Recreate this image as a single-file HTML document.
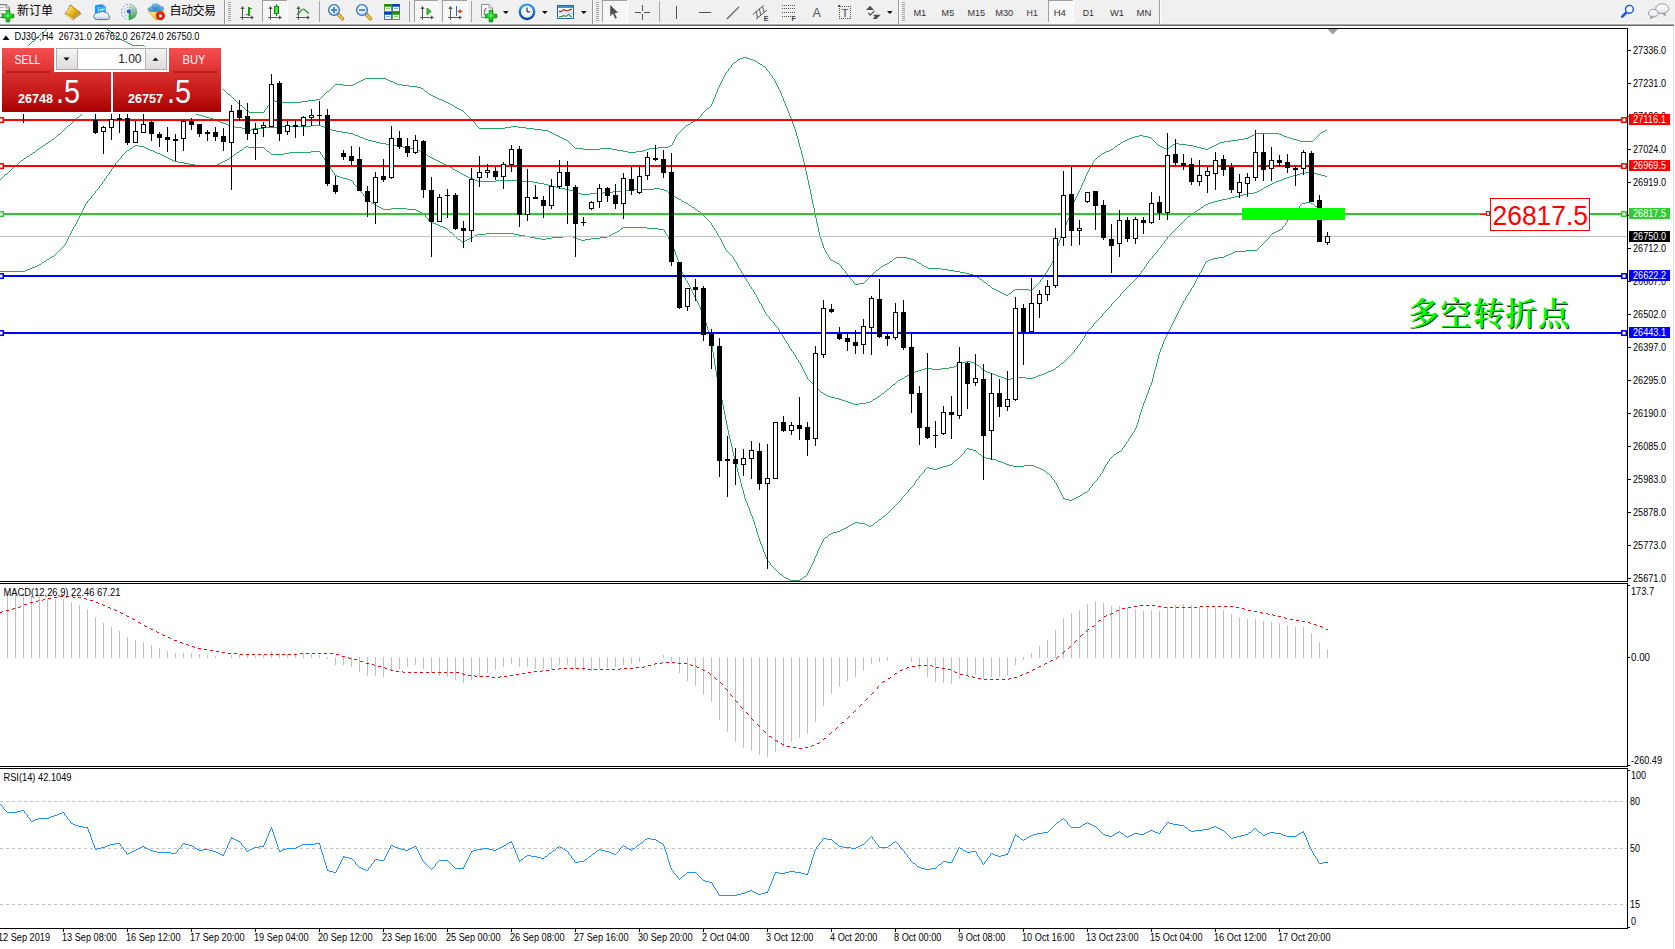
<!DOCTYPE html>
<html lang="zh"><head><meta charset="utf-8"><title>DJ30-,H4</title>
<style>html,body{margin:0;padding:0;background:#fff;overflow:hidden}body{width:1675px;height:949px;position:relative}</style></head>
<body>
<svg width="1675" height="949" viewBox="0 0 1675 949" style="position:absolute;left:0;top:0;font-family:'Liberation Sans', 'Noto Sans CJK SC', sans-serif">
<defs>
<clipPath id="cm"><rect x="0" y="29" width="1627" height="552"/></clipPath>
<clipPath id="c2"><rect x="0" y="584" width="1627" height="182"/></clipPath>
<clipPath id="c3"><rect x="0" y="769" width="1627" height="159"/></clipPath>
<linearGradient id="gtab" x1="0" y1="0" x2="0" y2="1"><stop offset="0" stop-color="#f55050"/><stop offset="1" stop-color="#dc3030"/></linearGradient>
<linearGradient id="gbig" x1="0" y1="0" x2="0" y2="1"><stop offset="0" stop-color="#d93030"/><stop offset="0.55" stop-color="#c41818"/><stop offset="1" stop-color="#a60000"/></linearGradient>
<linearGradient id="gbtn" x1="0" y1="0" x2="0" y2="1"><stop offset="0" stop-color="#f4f4f4"/><stop offset="1" stop-color="#dcdcdc"/></linearGradient>
</defs>
<rect x="0" y="0" width="1675" height="949" fill="#fff"/>
<g id="toolbar">
<defs>
<radialGradient id="gplus" cx="0.45" cy="0.42" r="0.6"><stop offset="0" stop-color="#58ff58"/><stop offset="0.55" stop-color="#1fd01f"/><stop offset="1" stop-color="#0c9c0c"/></radialGradient>
<linearGradient id="ggold" x1="0" y1="0" x2="1" y2="1"><stop offset="0" stop-color="#fff0a0"/><stop offset="0.45" stop-color="#f0c020"/><stop offset="1" stop-color="#b88010"/></linearGradient>
<linearGradient id="gsrv" x1="0" y1="0" x2="1" y2="0"><stop offset="0" stop-color="#1e90ff"/><stop offset="1" stop-color="#6ec6ff"/></linearGradient>
<radialGradient id="glens" cx="0.4" cy="0.35" r="0.7"><stop offset="0" stop-color="#ffffff"/><stop offset="1" stop-color="#b8dcf6"/></radialGradient>
<linearGradient id="gclock" x1="0" y1="0" x2="0" y2="1"><stop offset="0" stop-color="#3aa0f0"/><stop offset="1" stop-color="#0a48a8"/></linearGradient>
<linearGradient id="ghat" x1="0" y1="0" x2="0" y2="1"><stop offset="0" stop-color="#8ad0f0"/><stop offset="1" stop-color="#2a80c8"/></linearGradient>
<linearGradient id="gyel" x1="0" y1="0" x2="1" y2="1"><stop offset="0" stop-color="#fff6a0"/><stop offset="1" stop-color="#e8a810"/></linearGradient>
<linearGradient id="gcloud" x1="0" y1="0" x2="0" y2="1"><stop offset="0" stop-color="#ffffff"/><stop offset="0.5" stop-color="#f0f4fa"/><stop offset="1" stop-color="#b8c4dc"/></linearGradient>
<linearGradient id="gsig" x1="0.3" y1="0" x2="0.6" y2="1"><stop offset="0" stop-color="#dcecd8"/><stop offset="0.55" stop-color="#8cc890"/><stop offset="1" stop-color="#1ea01e"/></linearGradient>
<linearGradient id="gbub" x1="0" y1="0" x2="0" y2="1"><stop offset="0" stop-color="#ffffff"/><stop offset="0.6" stop-color="#f0f0f4"/><stop offset="1" stop-color="#dcdce8"/></linearGradient>
<pattern id="pchk" width="2" height="2" patternUnits="userSpaceOnUse"><rect width="2" height="2" fill="#fbfbfb"/><rect width="1" height="1" fill="#f2f2f2"/><rect x="1" y="1" width="1" height="1" fill="#f2f2f2"/></pattern>
</defs>
<g shape-rendering="crispEdges">
<rect x="0" y="0" width="1675" height="23" fill="#f0f0f0"/>
<rect x="0" y="23" width="1675" height="1" fill="#f7f7f7"/>
<rect x="0" y="24" width="1674" height="1" fill="#a8a8a8"/>
<rect x="0" y="25" width="1674" height="1" fill="#686868"/>
<rect x="0" y="26" width="1675" height="2" fill="#ffffff"/>
</g>
<path d="M-2,4.6 H6 L9.4,8 V17.4 H-2 Z" fill="#fdfdfd" stroke="#7c7c7c" stroke-width="1.3"/>
<path d="M6,4.6 V8 H9.4" fill="#f4f4f4" stroke="#7c7c7c" stroke-width="0.9"/>
<rect x="0" y="7" width="4" height="1" fill="#b0b0b0"/><rect x="0" y="10" width="7" height="1" fill="#b0b0b0"/><rect x="0" y="13" width="4" height="1" fill="#b0b0b0"/>
<path d="M6.2,10.4 h3.6 v3.8 h4 v3.6 h-4 v4 h-3.6 v-4 h-4 v-3.6 h4 Z" fill="url(#gplus)" stroke="#0a8a0a" stroke-width="0.9"/>
<text x="17" y="14.6" font-size="12" fill="#000">新订单</text>
<path d="M70.3,5 L80.8,13.6 L72.6,19.8 L65,13.9 Q68.6,10 70.3,5 Z" fill="#d8c070" stroke="#9c6a10" stroke-width="1" stroke-linejoin="round"/>
<path d="M70.4,5.4 L79.6,12 L73.2,17.4 L65.8,13.6 Q69,10 70.4,5.4 Z" fill="url(#ggold)" stroke="#b07c14" stroke-width="0.7" stroke-linejoin="round"/>
<path d="M65.6,14.4 L72.6,19.4" fill="none" stroke="#f4d870" stroke-width="1.3"/>
<path d="M66.2,13.2 Q69.2,10 70.6,6" fill="none" stroke="#fff4b0" stroke-width="0.9"/>
<path d="M95,5.2 L98.3,7.4 V16 L95,14 Z" fill="#00a2ff"/>
<path d="M95,5.2 L102,4.2 L106,6.4 L98.3,7.4 Z" fill="#2a8cf0"/>
<path d="M98.3,7.4 L106,6.4 V15 L98.3,16 Z" fill="#2eb0ff"/>
<path d="M98.3,7.4 V16" stroke="#d8f0ff" stroke-width="0.7"/>
<path d="M100.2,9.6 L104.6,8.6 V9.8 L100.2,10.8 Z" fill="#f4faff"/>
<path d="M96.4,19.6 a3.2,3.2 0 0 1 -0.4,-6.2 a3,3 0 0 1 3.6,-0.6 a3.6,3.6 0 0 1 5.6,-0.2 a3.2,3.2 0 0 1 3.6,3.4 a2,2 0 0 1 -1.6,3.6 Z" fill="url(#gcloud)" stroke="#4a68a8" stroke-width="0.9"/>
<path d="M129,11.8 L129,3.8 A8,8 0 0 1 129,19.8 Z" fill="url(#gsig)"/>
<circle cx="129" cy="11.8" r="7.6" fill="none" stroke="#5a86dc" stroke-width="1" stroke-dasharray="2.2 1.4" opacity="0.75"/>
<circle cx="129" cy="11.8" r="4.7" fill="none" stroke="#5a86dc" stroke-width="1" stroke-dasharray="2 1.2" opacity="0.7"/>
<rect x="128.9" y="12" width="1.5" height="7.8" fill="#18a418"/>
<circle cx="128.8" cy="11.4" r="2.1" fill="#2a5ad0"/>
<path d="M148.4,11.4 L163.8,10.6 L157.6,19.6 L155.6,19.6 Z" fill="url(#gyel)" stroke="#d8a010" stroke-width="0.8" stroke-linejoin="round"/>
<ellipse cx="155.9" cy="8.8" rx="7.9" ry="2.7" fill="url(#ghat)" stroke="#2c86b8" stroke-width="0.7" transform="rotate(-4 155.9 8.8)"/>
<ellipse cx="155.6" cy="6.4" rx="3.8" ry="2.7" fill="url(#ghat)" stroke="#2c86b8" stroke-width="0.5"/>
<circle cx="160.4" cy="15.8" r="4.1" fill="#e41c08" stroke="#b41404" stroke-width="0.6"/>
<rect x="159.1" y="14.5" width="2.7" height="2.7" fill="#ffffff"/>
<text x="169.5" y="14.6" font-size="12" fill="#000" textLength="46.5" lengthAdjust="spacing">自动交易</text>
<rect x="224" y="0" width="1" height="24" fill="#9a9a9a" shape-rendering="crispEdges"/>
<rect x="225" y="0" width="1" height="24" fill="#ffffff" shape-rendering="crispEdges"/>
<rect x="228" y="2" width="3" height="1" fill="#a2a2a2" shape-rendering="crispEdges"/>
<rect x="228" y="4" width="3" height="1" fill="#a2a2a2" shape-rendering="crispEdges"/>
<rect x="228" y="6" width="3" height="1" fill="#a2a2a2" shape-rendering="crispEdges"/>
<rect x="228" y="8" width="3" height="1" fill="#a2a2a2" shape-rendering="crispEdges"/>
<rect x="228" y="10" width="3" height="1" fill="#a2a2a2" shape-rendering="crispEdges"/>
<rect x="228" y="12" width="3" height="1" fill="#a2a2a2" shape-rendering="crispEdges"/>
<rect x="228" y="14" width="3" height="1" fill="#a2a2a2" shape-rendering="crispEdges"/>
<rect x="228" y="16" width="3" height="1" fill="#a2a2a2" shape-rendering="crispEdges"/>
<rect x="228" y="18" width="3" height="1" fill="#a2a2a2" shape-rendering="crispEdges"/>
<rect x="228" y="20" width="3" height="1" fill="#a2a2a2" shape-rendering="crispEdges"/>
<g fill="#585858" shape-rendering="crispEdges">
<rect x="242" y="7" width="1" height="13"/>
<rect x="240" y="17" width="12" height="1"/>
</g>
<path d="M242.5,6 L240.3,9 L244.7,9 Z" fill="#585858"/>
<path d="M254,17.5 L251,15.5 L251,19.5 Z" fill="#585858"/>
<g fill="#1b9b1b" shape-rendering="crispEdges"><rect x="248" y="7" width="1.6" height="9"/><rect x="250" y="8" width="2" height="1"/><rect x="246" y="14" width="2" height="1"/></g>
<rect x="262" y="0" width="25" height="23" fill="url(#pchk)" shape-rendering="crispEdges"/>
<rect x="262" y="0" width="25" height="1" fill="#a0a0a0" shape-rendering="crispEdges"/>
<rect x="262" y="0" width="1" height="22" fill="#a0a0a0" shape-rendering="crispEdges"/>
<rect x="262" y="22" width="25" height="1" fill="#ffffff" shape-rendering="crispEdges"/>
<rect x="287" y="0" width="1" height="23" fill="#ffffff" shape-rendering="crispEdges"/>
<g fill="#585858" shape-rendering="crispEdges">
<rect x="270" y="7" width="1" height="13"/>
<rect x="268" y="17" width="12" height="1"/>
</g>
<path d="M270.5,6 L268.3,9 L272.7,9 Z" fill="#585858"/>
<path d="M282,17.5 L279,15.5 L279,19.5 Z" fill="#585858"/>
<rect x="276" y="4" width="1" height="12" fill="#0c8c0c" shape-rendering="crispEdges"/>
<rect x="274.5" y="6.5" width="4" height="7" fill="#48e048" stroke="#0c8c0c" stroke-width="1"/>
<g fill="#585858" shape-rendering="crispEdges">
<rect x="298" y="7" width="1" height="13"/>
<rect x="296" y="17" width="12" height="1"/>
</g>
<path d="M298.5,6 L296.3,9 L300.7,9 Z" fill="#585858"/>
<path d="M310,17.5 L307,15.5 L307,19.5 Z" fill="#585858"/>
<path d="M297,14.6 C299.5,13.5 301.2,9.2 303.4,9.2 C305.2,9.2 307,12.8 309,13.4" fill="none" stroke="#2a9a2a" stroke-width="1.3"/>
<rect x="319" y="1" width="1" height="21" fill="#a6a6a6" shape-rendering="crispEdges"/>
<path d="M338.5,14.5 L342.6,18.8" stroke="#a87810" stroke-width="3.4" stroke-linecap="round"/>
<path d="M338.5,14.5 L342.6,18.8" stroke="#f8d048" stroke-width="1.8" stroke-linecap="round"/>
<circle cx="334" cy="10" r="5.4" fill="url(#glens)" stroke="#2f74c8" stroke-width="1.3"/>
<rect x="331" y="9.2" width="6" height="1.6" fill="#3c78b8"/>
<rect x="333.2" y="7" width="1.6" height="6" fill="#3c78b8"/>
<path d="M366.5,14.5 L370.6,18.8" stroke="#a87810" stroke-width="3.4" stroke-linecap="round"/>
<path d="M366.5,14.5 L370.6,18.8" stroke="#f8d048" stroke-width="1.8" stroke-linecap="round"/>
<circle cx="362" cy="10" r="5.4" fill="url(#glens)" stroke="#2f74c8" stroke-width="1.3"/>
<rect x="359" y="9.2" width="6" height="1.6" fill="#3c78b8"/>
<rect x="384" y="4" width="8" height="8" fill="#4cae2c"/>
<rect x="384" y="4" width="8" height="2" fill="#2f8a14"/>
<rect x="385" y="7" width="6" height="4" fill="#f4f8ff"/>
<rect x="386" y="8" width="4" height="1" fill="#4cae2c" opacity="0.6"/>
<rect x="392" y="4" width="8" height="8" fill="#3a6cdc"/>
<rect x="392" y="4" width="8" height="2" fill="#1a3cb0"/>
<rect x="393" y="7" width="6" height="4" fill="#f4f8ff"/>
<rect x="394" y="8" width="4" height="1" fill="#3a6cdc" opacity="0.6"/>
<rect x="384" y="12" width="8" height="8" fill="#3a6cdc"/>
<rect x="384" y="12" width="8" height="2" fill="#1a3cb0"/>
<rect x="385" y="15" width="6" height="4" fill="#f4f8ff"/>
<rect x="386" y="16" width="4" height="1" fill="#3a6cdc" opacity="0.6"/>
<rect x="392" y="12" width="8" height="8" fill="#4cae2c"/>
<rect x="392" y="12" width="8" height="2" fill="#2f8a14"/>
<rect x="393" y="15" width="6" height="4" fill="#f4f8ff"/>
<rect x="394" y="16" width="4" height="1" fill="#4cae2c" opacity="0.6"/>
<rect x="409" y="1" width="1" height="21" fill="#a6a6a6" shape-rendering="crispEdges"/>
<rect x="414" y="0" width="24" height="23" fill="url(#pchk)" shape-rendering="crispEdges"/>
<rect x="414" y="0" width="24" height="1" fill="#a0a0a0" shape-rendering="crispEdges"/>
<rect x="414" y="0" width="1" height="22" fill="#a0a0a0" shape-rendering="crispEdges"/>
<rect x="414" y="22" width="24" height="1" fill="#ffffff" shape-rendering="crispEdges"/>
<rect x="438" y="0" width="1" height="23" fill="#ffffff" shape-rendering="crispEdges"/>
<g fill="#585858" shape-rendering="crispEdges">
<rect x="422" y="7" width="1" height="13"/>
<rect x="420" y="17" width="12" height="1"/>
</g>
<path d="M422.5,6 L420.3,9 L424.7,9 Z" fill="#585858"/>
<path d="M434,17.5 L431,15.5 L431,19.5 Z" fill="#585858"/>
<path d="M427,8 L431.2,11.4 L427,14.8 Z" fill="#3cc83c" stroke="#129412" stroke-width="0.9"/>
<rect x="442" y="0" width="25" height="23" fill="url(#pchk)" shape-rendering="crispEdges"/>
<rect x="442" y="0" width="25" height="1" fill="#a0a0a0" shape-rendering="crispEdges"/>
<rect x="442" y="0" width="1" height="22" fill="#a0a0a0" shape-rendering="crispEdges"/>
<rect x="442" y="22" width="25" height="1" fill="#ffffff" shape-rendering="crispEdges"/>
<rect x="467" y="0" width="1" height="23" fill="#ffffff" shape-rendering="crispEdges"/>
<g fill="#585858" shape-rendering="crispEdges">
<rect x="450" y="7" width="1" height="13"/>
<rect x="448" y="17" width="12" height="1"/>
</g>
<path d="M450.5,6 L448.3,9 L452.7,9 Z" fill="#585858"/>
<path d="M462,17.5 L459,15.5 L459,19.5 Z" fill="#585858"/>
<rect x="456" y="6" width="1" height="10" fill="#1a6cb0" shape-rendering="crispEdges"/>
<path d="M457.6,11.4 L460.6,9 L460.6,10.8 L462.4,10.8 L462.4,12 L460.6,12 L460.6,13.8 Z" fill="#e03808"/>
<rect x="471" y="1" width="1" height="21" fill="#a6a6a6" shape-rendering="crispEdges"/>
<path d="M481.5,4.5 H489 L492.5,8 V17.5 H481.5 Z" fill="#fdfdfd" stroke="#8c8c8c" stroke-width="1"/>
<path d="M489,4.5 V8 H492.5" fill="#e8e8e8" stroke="#8c8c8c" stroke-width="0.8"/>
<text x="483.2" y="14.5" font-size="9" font-style="italic" fill="#555">f</text>
<path d="M489.2,10.4 h3.6 v3.8 h4 v3.6 h-4 v4 h-3.6 v-4 h-4 v-3.6 h4 Z" fill="url(#gplus)" stroke="#0a8a0a" stroke-width="0.9"/>
<path d="M503,11 L508.6,11 L505.8,14 Z" fill="#000"/>
<circle cx="527" cy="11.8" r="7.2" fill="#fafcff" stroke="url(#gclock)" stroke-width="2.4"/>
<path d="M527,11.8 V7.6 M527,11.8 H530" stroke="#303030" stroke-width="1.2" fill="none"/>
<circle cx="527" cy="16.200000000000003" r="0.45" fill="#8aa8d0"/>
<circle cx="527" cy="7.4" r="0.45" fill="#8aa8d0"/>
<circle cx="531.4" cy="11.8" r="0.45" fill="#8aa8d0"/>
<circle cx="522.6" cy="11.8" r="0.45" fill="#8aa8d0"/>
<circle cx="529.2" cy="15.600000000000001" r="0.45" fill="#8aa8d0"/>
<circle cx="524.8" cy="15.600000000000001" r="0.45" fill="#8aa8d0"/>
<circle cx="530.8" cy="14.0" r="0.45" fill="#8aa8d0"/>
<circle cx="523.2" cy="14.0" r="0.45" fill="#8aa8d0"/>
<circle cx="529.2" cy="8.0" r="0.45" fill="#8aa8d0"/>
<circle cx="524.8" cy="8.0" r="0.45" fill="#8aa8d0"/>
<circle cx="530.8" cy="9.600000000000001" r="0.45" fill="#8aa8d0"/>
<circle cx="523.2" cy="9.600000000000001" r="0.45" fill="#8aa8d0"/>
<path d="M542,11 L547.6,11 L544.8,14 Z" fill="#000"/>
<rect x="557.5" y="5.5" width="16" height="13" fill="#ffffff" stroke="#2a60c0" stroke-width="1"/>
<rect x="558" y="6" width="15" height="2" fill="#4a8ae8"/>
<rect x="558" y="12.5" width="15" height="0.8" fill="#9ab8e8"/>
<path d="M559,11.4 L561.5,11.4 L563.5,9.6 L566,10.6 L568.5,10.6 L570.5,9.4 L572,9.4" fill="none" stroke="#b03010" stroke-width="1.2"/>
<path d="M559,16.6 L561.5,16.6 L563.5,15.6 L566,16.4 L568.5,14.4 L571,16.6 L572,16.6" fill="none" stroke="#2a9a2a" stroke-width="1.2"/>
<path d="M581,11 L586.6,11 L583.8,14 Z" fill="#000"/>
<rect x="592" y="0" width="1" height="24" fill="#9a9a9a" shape-rendering="crispEdges"/>
<rect x="593" y="0" width="1" height="24" fill="#ffffff" shape-rendering="crispEdges"/>
<rect x="596" y="2" width="3" height="1" fill="#a2a2a2" shape-rendering="crispEdges"/>
<rect x="596" y="4" width="3" height="1" fill="#a2a2a2" shape-rendering="crispEdges"/>
<rect x="596" y="6" width="3" height="1" fill="#a2a2a2" shape-rendering="crispEdges"/>
<rect x="596" y="8" width="3" height="1" fill="#a2a2a2" shape-rendering="crispEdges"/>
<rect x="596" y="10" width="3" height="1" fill="#a2a2a2" shape-rendering="crispEdges"/>
<rect x="596" y="12" width="3" height="1" fill="#a2a2a2" shape-rendering="crispEdges"/>
<rect x="596" y="14" width="3" height="1" fill="#a2a2a2" shape-rendering="crispEdges"/>
<rect x="596" y="16" width="3" height="1" fill="#a2a2a2" shape-rendering="crispEdges"/>
<rect x="596" y="18" width="3" height="1" fill="#a2a2a2" shape-rendering="crispEdges"/>
<rect x="596" y="20" width="3" height="1" fill="#a2a2a2" shape-rendering="crispEdges"/>
<rect x="602" y="0" width="25" height="23" fill="url(#pchk)" shape-rendering="crispEdges"/>
<rect x="602" y="0" width="25" height="1" fill="#a0a0a0" shape-rendering="crispEdges"/>
<rect x="602" y="0" width="1" height="22" fill="#a0a0a0" shape-rendering="crispEdges"/>
<rect x="602" y="22" width="25" height="1" fill="#ffffff" shape-rendering="crispEdges"/>
<rect x="627" y="0" width="1" height="23" fill="#ffffff" shape-rendering="crispEdges"/>
<path d="M610.2,5 L610.2,16.2 L612.9,13.6 L615.2,18.8 L616.9,18 L614.7,13 L618.2,12.8 Z" fill="#505050"/>
<g fill="#505050" shape-rendering="crispEdges"><rect x="642" y="5" width="1" height="6"/><rect x="642" y="14" width="1" height="6"/><rect x="635" y="12" width="6" height="1"/><rect x="644" y="12" width="6" height="1"/></g>
<rect x="659" y="1" width="1" height="21" fill="#a6a6a6" shape-rendering="crispEdges"/>
<g fill="#505050" shape-rendering="crispEdges"><rect x="676" y="6" width="1" height="13"/><rect x="699" y="12" width="12" height="1"/></g>
<path d="M727,19 L739,6.8" stroke="#505050" stroke-width="1.1" fill="none"/>
<g stroke="#505050" stroke-width="1" fill="none"><path d="M752.8,14.5 L763.5,5.5"/><path d="M756,19.2 L767,10"/><path d="M756.2,11.5 L757.6,17.6 M759.4,9 L760.8,15 M762.6,6.4 L764,12.4" stroke-width="0.9"/></g>
<text x="763.8" y="20.8" font-size="7" font-weight="bold" fill="#404040">E</text>
<line x1="782" y1="5.5" x2="796" y2="5.5" stroke="#505050" stroke-width="1" stroke-dasharray="1 1" shape-rendering="crispEdges"/>
<line x1="782" y1="8.5" x2="796" y2="8.5" stroke="#505050" stroke-width="1" stroke-dasharray="1 1" shape-rendering="crispEdges"/>
<line x1="782" y1="12.5" x2="796" y2="12.5" stroke="#505050" stroke-width="1" stroke-dasharray="1 1" shape-rendering="crispEdges"/>
<line x1="782" y1="16.5" x2="791" y2="16.5" stroke="#505050" stroke-width="1" stroke-dasharray="1 1" shape-rendering="crispEdges"/>
<text x="791.6" y="20.8" font-size="7" font-weight="bold" fill="#404040">F</text>
<text x="816.7" y="16.8" font-size="12.5" fill="#585858" text-anchor="middle">A</text>
<rect x="839.5" y="6.5" width="11" height="12" fill="none" stroke="#505050" stroke-width="1" stroke-dasharray="1 1" shape-rendering="crispEdges"/>
<rect x="838" y="5" width="2" height="2" fill="#505050"/>
<text x="845" y="16.8" font-size="11.5" fill="#505050" text-anchor="middle">T</text>
<path d="M866,10 L870,5.8 L874,10 Z" fill="#505050"/>
<path d="M872.6,19 L876.6,14.8 L880.6,14.8 L876.6,19 Z M873,14.8 L880.2,14.8 L876.6,18.8 Z" fill="#505050"/>
<path d="M868.4,13 L870.2,15.2 L874.4,10.8" stroke="#505050" stroke-width="1.2" fill="none"/>
<path d="M887,11 L892.6,11 L889.8,14 Z" fill="#000"/>
<rect x="898" y="0" width="1" height="24" fill="#9a9a9a" shape-rendering="crispEdges"/>
<rect x="899" y="0" width="1" height="24" fill="#ffffff" shape-rendering="crispEdges"/>
<rect x="902" y="2" width="3" height="1" fill="#a2a2a2" shape-rendering="crispEdges"/>
<rect x="902" y="4" width="3" height="1" fill="#a2a2a2" shape-rendering="crispEdges"/>
<rect x="902" y="6" width="3" height="1" fill="#a2a2a2" shape-rendering="crispEdges"/>
<rect x="902" y="8" width="3" height="1" fill="#a2a2a2" shape-rendering="crispEdges"/>
<rect x="902" y="10" width="3" height="1" fill="#a2a2a2" shape-rendering="crispEdges"/>
<rect x="902" y="12" width="3" height="1" fill="#a2a2a2" shape-rendering="crispEdges"/>
<rect x="902" y="14" width="3" height="1" fill="#a2a2a2" shape-rendering="crispEdges"/>
<rect x="902" y="16" width="3" height="1" fill="#a2a2a2" shape-rendering="crispEdges"/>
<rect x="902" y="18" width="3" height="1" fill="#a2a2a2" shape-rendering="crispEdges"/>
<rect x="902" y="20" width="3" height="1" fill="#a2a2a2" shape-rendering="crispEdges"/>
<rect x="1048" y="0" width="25" height="23" fill="url(#pchk)" shape-rendering="crispEdges"/>
<rect x="1048" y="0" width="25" height="1" fill="#a0a0a0" shape-rendering="crispEdges"/>
<rect x="1048" y="0" width="1" height="22" fill="#a0a0a0" shape-rendering="crispEdges"/>
<rect x="1048" y="22" width="25" height="1" fill="#ffffff" shape-rendering="crispEdges"/>
<rect x="1073" y="0" width="1" height="23" fill="#ffffff" shape-rendering="crispEdges"/>
<g font-size="9.8" fill="#333333" text-anchor="middle">
<text x="919.8" y="16.2" textLength="12.8" lengthAdjust="spacingAndGlyphs">M1</text>
<text x="947.9" y="16.2" textLength="12.6" lengthAdjust="spacingAndGlyphs">M5</text>
<text x="976.2" y="16.2" textLength="17.6" lengthAdjust="spacingAndGlyphs">M15</text>
<text x="1004.2" y="16.2" textLength="18" lengthAdjust="spacingAndGlyphs">M30</text>
<text x="1032.2" y="16.2" textLength="11.2" lengthAdjust="spacingAndGlyphs">H1</text>
<text x="1059.8" y="16.2" textLength="12.2" lengthAdjust="spacingAndGlyphs">H4</text>
<text x="1088.4" y="16.2" textLength="11.2" lengthAdjust="spacingAndGlyphs">D1</text>
<text x="1117" y="16.2" textLength="14" lengthAdjust="spacingAndGlyphs">W1</text>
<text x="1143.9" y="16.2" textLength="14.8" lengthAdjust="spacingAndGlyphs">MN</text>
</g>
<rect x="1159" y="0" width="1" height="24" fill="#a0a0a0" shape-rendering="crispEdges"/>
<rect x="1160" y="0" width="1" height="24" fill="#ffffff" shape-rendering="crispEdges"/>
<path d="M1626.3,12.6 L1622.2,16.6" stroke="#1c54d4" stroke-width="2.7" stroke-linecap="round"/>
<circle cx="1629.4" cy="9.3" r="3.9" fill="#f6f6ff" stroke="#1c54d4" stroke-width="1.4"/>
<path d="M1664.2,13.2 L1665.6,15.6 L1662.4,13.4 Z" fill="#6a6a6a" stroke="#6a6a6a" stroke-width="0.6"/>
<ellipse cx="1662.2" cy="8.7" rx="6.6" ry="4.8" fill="url(#gbub)" stroke="#8e8e8e" stroke-width="0.9"/>
<path d="M1651.6,16.2 L1650.4,18.6 L1653.6,16.6 Z" fill="#6a6a6a" stroke="#6a6a6a" stroke-width="0.6"/>
<ellipse cx="1653.3" cy="13.2" rx="4.9" ry="3.8" fill="url(#gbub)" stroke="#8e8e8e" stroke-width="0.9"/>
</g>
<g shape-rendering="crispEdges" fill="#000">
<rect x="0" y="28" width="1628" height="1"/>
<rect x="1627" y="28" width="1" height="554"/>
<rect x="0" y="581" width="1628" height="1"/>
<rect x="0" y="583" width="1628" height="1"/>
<rect x="1627" y="583" width="1" height="184"/>
<rect x="0" y="766" width="1628" height="1"/>
<rect x="0" y="768" width="1628" height="1"/>
<rect x="1627" y="768" width="1" height="161"/>
<rect x="0" y="928" width="1628" height="1"/>
<rect x="1673" y="26" width="1" height="923" fill="#e4e4e4"/>
</g>
<g font-size="10" fill="#000">
<rect x="1628" y="50" width="3" height="1" shape-rendering="crispEdges"/>
<text x="1633" y="54.1" textLength="33" lengthAdjust="spacingAndGlyphs">27336.0</text>
<rect x="1628" y="83" width="3" height="1" shape-rendering="crispEdges"/>
<text x="1633" y="87.1" textLength="33" lengthAdjust="spacingAndGlyphs">27231.0</text>
<rect x="1628" y="116" width="3" height="1" shape-rendering="crispEdges"/>
<text x="1633" y="120.1" textLength="33" lengthAdjust="spacingAndGlyphs">27126.0</text>
<rect x="1628" y="149" width="3" height="1" shape-rendering="crispEdges"/>
<text x="1633" y="153.1" textLength="33" lengthAdjust="spacingAndGlyphs">27024.0</text>
<rect x="1628" y="182" width="3" height="1" shape-rendering="crispEdges"/>
<text x="1633" y="186.1" textLength="33" lengthAdjust="spacingAndGlyphs">26919.0</text>
<rect x="1628" y="215" width="3" height="1" shape-rendering="crispEdges"/>
<text x="1633" y="219.1" textLength="33" lengthAdjust="spacingAndGlyphs">26814.0</text>
<rect x="1628" y="248" width="3" height="1" shape-rendering="crispEdges"/>
<text x="1633" y="252.1" textLength="33" lengthAdjust="spacingAndGlyphs">26712.0</text>
<rect x="1628" y="281" width="3" height="1" shape-rendering="crispEdges"/>
<text x="1633" y="285.1" textLength="33" lengthAdjust="spacingAndGlyphs">26607.0</text>
<rect x="1628" y="314" width="3" height="1" shape-rendering="crispEdges"/>
<text x="1633" y="318.1" textLength="33" lengthAdjust="spacingAndGlyphs">26502.0</text>
<rect x="1628" y="347" width="3" height="1" shape-rendering="crispEdges"/>
<text x="1633" y="351.1" textLength="33" lengthAdjust="spacingAndGlyphs">26397.0</text>
<rect x="1628" y="380" width="3" height="1" shape-rendering="crispEdges"/>
<text x="1633" y="384.1" textLength="33" lengthAdjust="spacingAndGlyphs">26295.0</text>
<rect x="1628" y="413" width="3" height="1" shape-rendering="crispEdges"/>
<text x="1633" y="417.1" textLength="33" lengthAdjust="spacingAndGlyphs">26190.0</text>
<rect x="1628" y="446" width="3" height="1" shape-rendering="crispEdges"/>
<text x="1633" y="450.1" textLength="33" lengthAdjust="spacingAndGlyphs">26085.0</text>
<rect x="1628" y="479" width="3" height="1" shape-rendering="crispEdges"/>
<text x="1633" y="483.1" textLength="33" lengthAdjust="spacingAndGlyphs">25983.0</text>
<rect x="1628" y="512" width="3" height="1" shape-rendering="crispEdges"/>
<text x="1633" y="516.1" textLength="33" lengthAdjust="spacingAndGlyphs">25878.0</text>
<rect x="1628" y="545" width="3" height="1" shape-rendering="crispEdges"/>
<text x="1633" y="549.1" textLength="33" lengthAdjust="spacingAndGlyphs">25773.0</text>
<rect x="1628" y="578" width="3" height="1" shape-rendering="crispEdges"/>
<text x="1633" y="582.1" textLength="33" lengthAdjust="spacingAndGlyphs">25671.0</text>
<rect x="1628" y="585" width="2" height="1" shape-rendering="crispEdges"/>
<text x="1631" y="594.6" textLength="23" lengthAdjust="spacingAndGlyphs">173.7</text>
<rect x="1628" y="657" width="2" height="1" shape-rendering="crispEdges"/>
<text x="1631" y="661.2" textLength="19" lengthAdjust="spacingAndGlyphs">0.00</text>
<rect x="1628" y="765" width="2" height="1" shape-rendering="crispEdges"/>
<text x="1631" y="763.8" textLength="31" lengthAdjust="spacingAndGlyphs">-260.49</text>
<rect x="1628" y="770" width="2" height="1" shape-rendering="crispEdges"/>
<text x="1631" y="779.3" textLength="15" lengthAdjust="spacingAndGlyphs">100</text>
<text x="1630" y="805.2" textLength="10" lengthAdjust="spacingAndGlyphs">80</text>
<text x="1630" y="852.4" textLength="10" lengthAdjust="spacingAndGlyphs">50</text>
<text x="1630" y="908.3" textLength="10" lengthAdjust="spacingAndGlyphs">15</text>
<text x="1631" y="925.3" textLength="5" lengthAdjust="spacingAndGlyphs">0</text>
<rect x="1628" y="927" width="2" height="1" shape-rendering="crispEdges"/>
</g>
<g font-size="10" fill="#000">
<text x="-2" y="941.3" textLength="52" lengthAdjust="spacingAndGlyphs">12 Sep 2019</text>
<rect x="63" y="929" width="1" height="3" shape-rendering="crispEdges"/>
<text x="62" y="941.3" textLength="54.5" lengthAdjust="spacingAndGlyphs">13 Sep 08:00</text>
<rect x="127" y="929" width="1" height="3" shape-rendering="crispEdges"/>
<text x="126" y="941.3" textLength="54.5" lengthAdjust="spacingAndGlyphs">16 Sep 12:00</text>
<rect x="191" y="929" width="1" height="3" shape-rendering="crispEdges"/>
<text x="190" y="941.3" textLength="54.5" lengthAdjust="spacingAndGlyphs">17 Sep 20:00</text>
<rect x="255" y="929" width="1" height="3" shape-rendering="crispEdges"/>
<text x="254" y="941.3" textLength="54.5" lengthAdjust="spacingAndGlyphs">19 Sep 04:00</text>
<rect x="319" y="929" width="1" height="3" shape-rendering="crispEdges"/>
<text x="318" y="941.3" textLength="54.5" lengthAdjust="spacingAndGlyphs">20 Sep 12:00</text>
<rect x="383" y="929" width="1" height="3" shape-rendering="crispEdges"/>
<text x="382" y="941.3" textLength="54.5" lengthAdjust="spacingAndGlyphs">23 Sep 16:00</text>
<rect x="447" y="929" width="1" height="3" shape-rendering="crispEdges"/>
<text x="446" y="941.3" textLength="54.5" lengthAdjust="spacingAndGlyphs">25 Sep 00:00</text>
<rect x="511" y="929" width="1" height="3" shape-rendering="crispEdges"/>
<text x="510" y="941.3" textLength="54.5" lengthAdjust="spacingAndGlyphs">26 Sep 08:00</text>
<rect x="575" y="929" width="1" height="3" shape-rendering="crispEdges"/>
<text x="574" y="941.3" textLength="54.5" lengthAdjust="spacingAndGlyphs">27 Sep 16:00</text>
<rect x="639" y="929" width="1" height="3" shape-rendering="crispEdges"/>
<text x="638" y="941.3" textLength="54.5" lengthAdjust="spacingAndGlyphs">30 Sep 20:00</text>
<rect x="703" y="929" width="1" height="3" shape-rendering="crispEdges"/>
<text x="702" y="941.3" textLength="47.4" lengthAdjust="spacingAndGlyphs">2 Oct 04:00</text>
<rect x="767" y="929" width="1" height="3" shape-rendering="crispEdges"/>
<text x="766" y="941.3" textLength="47.4" lengthAdjust="spacingAndGlyphs">3 Oct 12:00</text>
<rect x="831" y="929" width="1" height="3" shape-rendering="crispEdges"/>
<text x="830" y="941.3" textLength="47.4" lengthAdjust="spacingAndGlyphs">4 Oct 20:00</text>
<rect x="895" y="929" width="1" height="3" shape-rendering="crispEdges"/>
<text x="894" y="941.3" textLength="47.4" lengthAdjust="spacingAndGlyphs">8 Oct 00:00</text>
<rect x="959" y="929" width="1" height="3" shape-rendering="crispEdges"/>
<text x="958" y="941.3" textLength="47.4" lengthAdjust="spacingAndGlyphs">9 Oct 08:00</text>
<rect x="1023" y="929" width="1" height="3" shape-rendering="crispEdges"/>
<text x="1022" y="941.3" textLength="52.5" lengthAdjust="spacingAndGlyphs">10 Oct 16:00</text>
<rect x="1087" y="929" width="1" height="3" shape-rendering="crispEdges"/>
<text x="1086" y="941.3" textLength="52.5" lengthAdjust="spacingAndGlyphs">13 Oct 23:00</text>
<rect x="1151" y="929" width="1" height="3" shape-rendering="crispEdges"/>
<text x="1150" y="941.3" textLength="52.5" lengthAdjust="spacingAndGlyphs">15 Oct 04:00</text>
<rect x="1215" y="929" width="1" height="3" shape-rendering="crispEdges"/>
<text x="1214" y="941.3" textLength="52.5" lengthAdjust="spacingAndGlyphs">16 Oct 12:00</text>
<rect x="1279" y="929" width="1" height="3" shape-rendering="crispEdges"/>
<text x="1278" y="941.3" textLength="52.5" lengthAdjust="spacingAndGlyphs">17 Oct 20:00</text>
</g>
<g clip-path="url(#cm)">
<g fill="#28a862" shape-rendering="crispEdges">
<path d="M28 45h1v1h-1zM29 44h1v1h-1zM30 43h1v1h-1zM31 42h1v1h-1zM32 41h2v1h-2zM34 40h1v1h-1zM35 39h1v1h-1zM36 38h1v1h-1zM37 37h1v1h-1zM38 36h1v1h-1zM39 35h1v1h-1zM40 34h1v1h-1zM41 33h1v1h-1zM42 32h2v1h-2zM44 31h1v1h-1zM45 30h1v1h-1zM46 29h1v1h-1zM47 28h1v1h-1zM48 26h1v2h-1zM49 24h1v2h-1zM50 22h1v2h-1zM51 21h1v1h-1zM52 19h1v2h-1zM53 17h1v2h-1zM54 15h1v2h-1zM55 13h1v2h-1zM56 12h1v1h-1zM57 10h1v2h-1zM58 8h1v2h-1zM59 6h1v2h-1zM60 5h36v1h-36zM95 6h1v1h-1zM96 7h1v2h-1zM97 9h1v2h-1zM98 11h1v2h-1zM99 13h1v2h-1zM100 15h1v2h-1zM101 17h1v2h-1zM102 19h1v2h-1zM103 21h1v2h-1zM104 23h1v2h-1zM105 25h1v2h-1zM106 27h1v2h-1zM107 29h1v1h-1zM108 30h2v1h-2zM110 31h1v1h-1zM111 32h1v1h-1zM112 33h1v1h-1zM113 34h1v1h-1zM114 35h2v1h-2zM116 36h1v1h-1zM117 37h1v1h-1zM118 38h2v1h-2zM120 39h2v1h-2zM122 40h2v1h-2zM124 41h2v1h-2zM126 42h2v1h-2zM128 43h2v1h-2zM130 44h2v1h-2zM132 45h12v1h-12zM144 46h2v1h-2zM146 47h2v1h-2zM148 48h2v1h-2zM150 49h2v1h-2zM152 50h2v1h-2zM154 51h2v1h-2zM156 52h3v1h-3zM159 53h2v1h-2zM161 54h3v1h-3zM164 55h2v1h-2zM166 56h2v1h-2zM168 57h3v1h-3zM171 58h2v1h-2zM173 59h2v1h-2zM175 60h3v1h-3zM178 61h2v1h-2zM180 62h3v1h-3zM183 63h2v1h-2zM185 64h2v1h-2zM187 65h3v1h-3zM190 66h2v1h-2zM192 67h3v1h-3zM195 68h2v1h-2zM197 69h2v1h-2zM199 70h2v1h-2zM201 71h1v1h-1zM202 72h2v1h-2zM204 73h1v1h-1zM205 74h1v1h-1zM206 75h1v1h-1zM207 76h1v1h-1zM208 77h2v1h-2zM210 78h1v1h-1zM211 79h1v1h-1zM212 80h1v1h-1zM213 81h2v1h-2zM215 82h1v1h-1zM216 83h1v1h-1zM217 84h1v1h-1zM218 85h1v1h-1zM219 86h2v1h-2zM221 87h1v1h-1zM222 88h1v1h-1zM223 89h1v1h-1zM224 90h1v1h-1zM225 91h1v1h-1zM226 92h1v1h-1zM227 93h1v1h-1zM228 94h2v1h-2zM230 95h1v1h-1zM231 96h1v1h-1zM232 97h1v1h-1zM233 98h1v1h-1zM234 99h1v1h-1zM235 100h1v1h-1zM236 101h1v1h-1zM237 102h1v1h-1zM238 103h1v1h-1zM239 104h1v1h-1zM240 105h2v1h-2zM242 106h1v1h-1zM243 107h1v1h-1zM244 108h1v1h-1zM245 109h1v1h-1zM246 110h1v1h-1zM247 111h2v1h-2zM249 112h15v1h-15zM264 110h1v2h-1zM265 109h1v1h-1zM266 108h1v1h-1zM267 106h1v2h-1zM268 105h1v1h-1zM269 104h1v1h-1zM270 103h1v1h-1zM271 102h1v1h-1zM272 101h1v1h-1zM273 100h2v1h-2zM275 101h4v1h-4zM279 102h22v1h-22zM301 101h7v1h-7zM308 100h8v1h-8zM316 99h4v1h-4zM320 98h1v1h-1zM321 97h1v1h-1zM322 96h1v1h-1zM323 95h1v1h-1zM324 94h1v1h-1zM325 93h1v1h-1zM326 92h1v1h-1zM327 91h2v1h-2zM329 90h1v1h-1zM330 89h1v1h-1zM331 88h1v1h-1zM332 87h1v1h-1zM333 86h1v1h-1zM334 85h1v1h-1zM335 84h8v1h-8zM343 85h10v1h-10zM353 84h2v1h-2zM355 83h2v1h-2zM357 82h2v1h-2zM359 81h2v1h-2zM361 80h2v1h-2zM363 79h2v1h-2zM365 78h21v1h-21zM386 79h2v1h-2zM388 80h2v1h-2zM390 81h3v1h-3zM393 82h2v1h-2zM395 83h2v1h-2zM397 84h5v1h-5zM402 85h7v1h-7zM409 86h8v1h-8zM417 87h4v1h-4zM421 88h2v1h-2zM423 89h1v1h-1zM424 90h1v1h-1zM425 91h2v1h-2zM427 92h1v1h-1zM428 93h1v1h-1zM429 94h2v1h-2zM431 95h2v1h-2zM433 96h2v1h-2zM435 97h2v1h-2zM437 98h2v1h-2zM439 99h3v1h-3zM442 100h2v1h-2zM444 101h2v1h-2zM446 102h2v1h-2zM448 103h2v1h-2zM450 104h2v1h-2zM452 105h2v1h-2zM454 106h1v1h-1zM455 107h2v1h-2zM457 108h2v1h-2zM459 109h2v1h-2zM461 110h2v1h-2zM463 111h1v1h-1zM464 112h1v1h-1zM465 113h1v1h-1zM466 114h1v1h-1zM467 115h1v1h-1zM468 116h1v1h-1zM469 117h1v1h-1zM470 118h1v1h-1zM471 119h1v1h-1zM472 120h1v1h-1zM473 121h1v1h-1zM474 122h1v1h-1zM475 123h1v2h-1zM476 125h1v1h-1zM477 126h1v1h-1zM478 127h1v1h-1zM479 128h26v1h-26zM505 127h6v1h-6zM511 126h7v1h-7zM518 127h8v1h-8zM526 128h8v1h-8zM534 129h8v1h-8zM542 130h6v1h-6zM548 131h2v1h-2zM550 132h2v1h-2zM552 133h2v1h-2zM554 134h2v1h-2zM556 135h2v1h-2zM558 136h2v1h-2zM560 137h2v1h-2zM562 138h2v1h-2zM564 139h2v1h-2zM566 140h2v1h-2zM568 141h1v1h-1zM569 142h1v1h-1zM570 143h1v1h-1zM571 144h1v1h-1zM572 145h1v1h-1zM573 146h1v1h-1zM574 147h1v1h-1zM575 148h8v1h-8zM583 149h17v1h-17zM600 148h12v1h-12zM612 149h5v1h-5zM617 150h6v1h-6zM623 151h5v1h-5zM628 152h8v1h-8zM636 151h7v1h-7zM643 150h3v1h-3zM646 149h3v1h-3zM649 148h9v1h-9zM658 147h10v1h-10zM668 146h2v1h-2zM670 145h2v1h-2zM672 143h1v2h-1zM673 141h1v2h-1zM674 139h1v2h-1zM675 137h1v2h-1zM676 135h1v2h-1zM677 134h1v1h-1zM678 133h1v1h-1zM679 132h1v1h-1zM680 131h1v1h-1zM681 130h1v1h-1zM682 129h1v1h-1zM683 128h1v1h-1zM684 127h1v1h-1zM685 126h1v1h-1zM686 125h2v1h-2zM688 124h2v1h-2zM690 123h1v1h-1zM691 122h2v1h-2zM693 121h2v1h-2zM695 120h2v1h-2zM697 119h1v1h-1zM698 118h1v1h-1zM699 117h1v1h-1zM700 116h1v1h-1zM701 114h1v2h-1zM702 113h1v1h-1zM703 112h1v1h-1zM704 111h1v1h-1zM705 110h1v1h-1zM706 109h1v1h-1zM707 108h2v1h-2zM709 107h1v1h-1zM710 106h1v1h-1zM711 104h1v2h-1zM712 102h1v2h-1zM713 99h1v3h-1zM714 97h1v2h-1zM715 94h1v3h-1zM716 92h1v2h-1zM717 89h1v3h-1zM718 87h1v2h-1zM719 85h1v2h-1zM720 83h1v2h-1zM721 81h1v2h-1zM722 79h1v2h-1zM723 77h1v2h-1zM724 75h1v2h-1zM725 73h1v2h-1zM726 72h1v1h-1zM727 71h1v1h-1zM728 69h1v2h-1zM729 68h1v1h-1zM730 67h1v1h-1zM731 65h1v2h-1zM732 64h1v1h-1zM733 63h1v1h-1zM734 62h2v1h-2zM736 61h1v1h-1zM737 60h1v1h-1zM738 59h2v1h-2zM740 58h3v1h-3zM743 57h4v1h-4zM747 58h3v1h-3zM750 59h3v1h-3zM753 60h2v1h-2zM755 61h2v1h-2zM757 62h1v1h-1zM758 63h2v1h-2zM760 64h2v1h-2zM762 65h1v1h-1zM763 66h2v1h-2zM765 67h1v1h-1zM766 68h1v2h-1zM767 70h1v1h-1zM768 71h1v1h-1zM769 72h1v2h-1zM770 74h1v1h-1zM771 75h1v1h-1zM772 76h1v2h-1zM773 78h1v1h-1zM774 79h1v2h-1zM775 81h1v2h-1zM776 83h1v2h-1zM777 85h1v2h-1zM778 87h1v2h-1zM779 89h1v2h-1zM780 91h1v2h-1zM781 93h1v3h-1zM782 96h1v2h-1zM783 98h1v3h-1zM784 101h1v2h-1zM785 103h1v3h-1zM786 106h1v2h-1zM787 108h1v3h-1zM788 111h1v2h-1zM789 113h1v3h-1zM790 116h1v2h-1zM791 118h1v3h-1zM792 121h1v3h-1zM793 124h1v2h-1zM794 126h1v3h-1zM795 129h1v3h-1zM796 132h1v4h-1zM797 136h1v3h-1zM798 139h1v4h-1zM799 143h1v4h-1zM800 147h1v3h-1zM801 150h1v4h-1zM802 154h1v4h-1zM803 158h1v4h-1zM804 162h1v4h-1zM805 166h1v5h-1zM806 171h1v4h-1zM807 175h1v5h-1zM808 180h1v5h-1zM809 185h1v4h-1zM810 189h1v5h-1zM811 194h1v5h-1zM812 199h1v5h-1zM813 204h1v4h-1zM814 208h1v5h-1zM815 213h1v5h-1zM816 218h1v5h-1zM817 223h1v4h-1zM818 227h1v5h-1zM819 232h1v4h-1zM820 236h1v3h-1zM821 239h1v3h-1zM822 242h1v3h-1zM823 245h1v3h-1zM824 248h1v2h-1zM825 250h1v2h-1zM826 252h1v2h-1zM827 254h1v1h-1zM828 255h1v2h-1zM829 257h1v2h-1zM830 259h1v1h-1zM831 260h2v1h-2zM833 261h2v1h-2zM835 262h2v1h-2zM837 263h2v1h-2zM839 264h1v1h-1zM840 265h1v1h-1zM841 266h1v2h-1zM842 268h1v1h-1zM843 269h1v1h-1zM844 270h1v1h-1zM845 271h1v2h-1zM846 273h1v1h-1zM847 274h1v1h-1zM848 275h1v1h-1zM849 276h1v2h-1zM850 278h1v1h-1zM851 279h1v1h-1zM852 280h1v1h-1zM853 281h1v2h-1zM854 283h1v1h-1zM855 284h4v1h-4zM859 283h5v1h-5zM864 282h1v1h-1zM865 281h1v1h-1zM866 280h1v1h-1zM867 279h1v1h-1zM868 278h1v1h-1zM869 277h1v1h-1zM870 276h1v1h-1zM871 275h1v1h-1zM872 274h1v1h-1zM873 273h1v1h-1zM874 272h1v1h-1zM875 271h1v1h-1zM876 270h2v1h-2zM878 269h1v1h-1zM879 268h1v1h-1zM880 267h1v1h-1zM881 266h2v1h-2zM883 265h2v1h-2zM885 264h2v1h-2zM887 263h2v1h-2zM889 262h1v1h-1zM890 261h2v1h-2zM892 260h1v1h-1zM893 259h1v1h-1zM894 258h2v1h-2zM896 257h11v1h-11zM907 258h4v1h-4zM911 259h3v1h-3zM914 260h2v1h-2zM916 261h1v1h-1zM917 262h2v1h-2zM919 263h2v1h-2zM921 264h1v1h-1zM922 265h2v1h-2zM924 266h2v1h-2zM926 267h2v1h-2zM928 268h13v1h-13zM941 269h7v1h-7zM948 270h6v1h-6zM954 271h6v1h-6zM960 272h5v1h-5zM965 273h4v1h-4zM969 274h4v1h-4zM973 275h2v1h-2zM975 276h2v1h-2zM977 277h2v1h-2zM979 278h1v1h-1zM980 279h2v1h-2zM982 280h1v1h-1zM983 281h1v1h-1zM984 282h2v1h-2zM986 283h1v1h-1zM987 284h1v1h-1zM988 285h2v1h-2zM990 286h1v1h-1zM991 287h1v1h-1zM992 288h2v1h-2zM994 289h2v1h-2zM996 290h2v1h-2zM998 291h2v1h-2zM1000 292h2v1h-2zM1002 293h2v1h-2zM1004 294h2v1h-2zM1006 295h2v1h-2zM1008 294h1v1h-1zM1009 293h2v1h-2zM1011 292h1v1h-1zM1012 291h1v1h-1zM1013 290h2v1h-2zM1015 289h14v1h-14zM1029 290h3v1h-3zM1032 289h1v1h-1zM1033 288h1v1h-1zM1034 287h1v1h-1zM1035 286h1v1h-1zM1036 285h1v1h-1zM1037 284h1v1h-1zM1038 283h1v1h-1zM1039 282h1v1h-1zM1040 280h1v2h-1zM1041 279h1v1h-1zM1042 278h1v1h-1zM1043 276h1v2h-1zM1044 275h1v1h-1zM1045 273h1v2h-1zM1046 272h1v1h-1zM1047 270h1v2h-1zM1048 268h1v2h-1zM1049 267h1v1h-1zM1050 265h1v2h-1zM1051 263h1v2h-1zM1052 261h1v2h-1zM1053 259h1v2h-1zM1054 256h1v3h-1zM1055 253h1v3h-1zM1056 249h1v4h-1zM1057 246h1v3h-1zM1058 243h1v3h-1zM1059 240h1v3h-1zM1060 237h1v3h-1zM1061 234h1v3h-1zM1062 231h1v3h-1zM1063 229h1v2h-1zM1064 227h1v2h-1zM1065 225h1v2h-1zM1066 222h1v3h-1zM1067 220h1v2h-1zM1068 218h1v2h-1zM1069 215h1v3h-1zM1070 211h1v4h-1zM1071 208h1v3h-1zM1072 204h1v4h-1zM1073 202h1v2h-1zM1074 200h1v2h-1zM1075 198h1v2h-1zM1076 196h1v2h-1zM1077 194h1v2h-1zM1078 192h1v2h-1zM1079 190h1v2h-1zM1080 188h1v2h-1zM1081 185h1v3h-1zM1082 183h1v2h-1zM1083 181h1v2h-1zM1084 179h1v2h-1zM1085 176h1v3h-1zM1086 174h1v2h-1zM1087 172h1v2h-1zM1088 170h1v2h-1zM1089 168h1v2h-1zM1090 166h1v2h-1zM1091 165h1v1h-1zM1092 163h1v2h-1zM1093 161h1v2h-1zM1094 160h1v1h-1zM1095 159h1v1h-1zM1096 158h1v1h-1zM1097 157h1v1h-1zM1098 156h2v1h-2zM1100 155h1v1h-1zM1101 154h1v1h-1zM1102 153h2v1h-2zM1104 152h2v1h-2zM1106 151h3v1h-3zM1109 150h2v1h-2zM1111 149h2v1h-2zM1113 148h1v1h-1zM1114 147h1v1h-1zM1115 146h2v1h-2zM1117 145h1v1h-1zM1118 144h2v1h-2zM1120 143h1v1h-1zM1121 142h2v1h-2zM1123 141h2v1h-2zM1125 140h2v1h-2zM1127 139h2v1h-2zM1129 138h3v1h-3zM1132 137h3v1h-3zM1135 136h4v1h-4zM1139 135h4v1h-4zM1143 136h5v1h-5zM1148 137h3v1h-3zM1151 138h1v1h-1zM1152 139h1v1h-1zM1153 140h1v1h-1zM1154 141h1v1h-1zM1155 142h1v1h-1zM1156 143h1v1h-1zM1157 144h1v1h-1zM1158 145h2v1h-2zM1160 146h2v1h-2zM1162 147h2v1h-2zM1164 148h2v1h-2zM1166 149h1v1h-1zM1167 148h2v1h-2zM1169 147h1v1h-1zM1170 146h2v1h-2zM1172 145h1v1h-1zM1173 144h2v1h-2zM1175 143h4v1h-4zM1179 144h8v1h-8zM1187 145h6v1h-6zM1193 146h4v1h-4zM1197 147h4v1h-4zM1201 148h4v1h-4zM1205 149h3v1h-3zM1208 148h2v1h-2zM1210 147h2v1h-2zM1212 146h2v1h-2zM1214 145h2v1h-2zM1216 144h2v1h-2zM1218 143h2v1h-2zM1220 142h4v1h-4zM1224 141h7v1h-7zM1231 140h7v1h-7zM1238 139h6v1h-6zM1244 138h4v1h-4zM1248 137h2v1h-2zM1250 136h2v1h-2zM1252 135h2v1h-2zM1254 134h2v1h-2zM1256 133h23v1h-23zM1279 134h3v1h-3zM1282 135h2v1h-2zM1284 136h3v1h-3zM1287 137h3v1h-3zM1290 138h3v1h-3zM1293 139h4v1h-4zM1297 140h3v1h-3zM1300 141h13v1h-13zM1313 140h1v1h-1zM1314 139h1v1h-1zM1315 138h1v1h-1zM1316 137h1v1h-1zM1317 136h1v1h-1zM1318 135h1v1h-1zM1319 134h1v1h-1zM1320 133h1v1h-1zM1321 132h2v1h-2zM1323 131h2v1h-2zM1325 130h2v1h-2z"/>
<path d="M0 179h1v1h-1zM1 178h1v1h-1zM2 177h1v1h-1zM3 176h1v1h-1zM4 175h1v1h-1zM5 174h2v1h-2zM7 173h1v1h-1zM8 172h1v1h-1zM9 171h1v1h-1zM10 170h1v1h-1zM11 169h1v1h-1zM12 168h1v1h-1zM13 167h1v1h-1zM14 166h1v1h-1zM15 165h2v1h-2zM17 164h1v1h-1zM18 163h1v1h-1zM19 162h1v1h-1zM20 161h1v1h-1zM21 160h2v1h-2zM23 159h1v1h-1zM24 158h2v1h-2zM26 157h1v1h-1zM27 156h2v1h-2zM29 155h1v1h-1zM30 154h2v1h-2zM32 153h1v1h-1zM33 152h2v1h-2zM35 151h1v1h-1zM36 150h1v1h-1zM37 149h2v1h-2zM39 148h1v1h-1zM40 147h2v1h-2zM42 146h1v1h-1zM43 145h2v1h-2zM45 144h1v1h-1zM46 143h2v1h-2zM48 142h1v1h-1zM49 141h2v1h-2zM51 140h1v1h-1zM52 139h2v1h-2zM54 138h1v1h-1zM55 137h1v1h-1zM56 136h1v1h-1zM57 135h1v1h-1zM58 134h2v1h-2zM60 133h1v1h-1zM61 132h1v1h-1zM62 131h1v1h-1zM63 130h1v1h-1zM64 129h1v1h-1zM65 128h1v1h-1zM66 127h1v1h-1zM67 126h1v1h-1zM68 125h2v1h-2zM70 124h1v1h-1zM71 123h1v1h-1zM72 122h1v1h-1zM73 121h1v1h-1zM74 120h1v1h-1zM75 119h1v1h-1zM76 118h1v1h-1zM77 117h2v1h-2zM79 116h1v1h-1zM80 115h1v1h-1zM81 114h1v1h-1zM82 113h1v1h-1zM83 112h2v1h-2zM85 111h2v1h-2zM87 110h1v1h-1zM88 109h2v1h-2zM90 108h2v1h-2zM92 107h1v1h-1zM93 106h2v1h-2zM95 105h2v1h-2zM97 104h1v1h-1zM98 103h2v1h-2zM100 102h1v1h-1zM101 101h2v1h-2zM103 100h2v1h-2zM105 99h1v1h-1zM106 98h2v1h-2zM108 97h2v1h-2zM110 96h1v1h-1zM111 95h2v1h-2zM113 94h2v1h-2zM115 93h1v1h-1zM116 92h2v1h-2zM118 91h2v1h-2zM120 90h2v1h-2zM122 91h4v1h-4zM126 92h4v1h-4zM130 93h4v1h-4zM134 94h4v1h-4zM138 95h4v1h-4zM142 96h4v1h-4zM146 97h4v1h-4zM150 98h4v1h-4zM154 99h4v1h-4zM158 100h4v1h-4zM162 101h2v1h-2zM164 102h3v1h-3zM167 103h2v1h-2zM169 104h3v1h-3zM172 105h2v1h-2zM174 106h3v1h-3zM177 107h2v1h-2zM179 108h3v1h-3zM182 109h2v1h-2zM184 110h3v1h-3zM187 111h3v1h-3zM190 112h3v1h-3zM193 113h3v1h-3zM196 114h3v1h-3zM199 115h4v1h-4zM203 116h3v1h-3zM206 117h4v1h-4zM210 118h3v1h-3zM213 119h2v1h-2zM215 120h3v1h-3zM218 121h2v1h-2zM220 122h3v1h-3zM223 123h3v1h-3zM226 124h2v1h-2zM228 125h3v1h-3zM231 126h4v1h-4zM235 127h7v1h-7zM242 128h5v1h-5zM247 129h2v1h-2zM249 130h2v1h-2zM251 129h2v1h-2zM253 128h10v1h-10zM263 127h17v1h-17zM280 126h31v1h-31zM311 125h10v1h-10zM321 126h3v1h-3zM324 127h2v1h-2zM326 128h3v1h-3zM329 129h3v1h-3zM332 130h4v1h-4zM336 131h6v1h-6zM342 132h6v1h-6zM348 133h5v1h-5zM353 134h2v1h-2zM355 135h3v1h-3zM358 136h2v1h-2zM360 137h3v1h-3zM363 138h2v1h-2zM365 139h3v1h-3zM368 140h4v1h-4zM372 141h4v1h-4zM376 142h4v1h-4zM380 143h6v1h-6zM386 144h6v1h-6zM392 145h6v1h-6zM398 146h5v1h-5zM403 147h6v1h-6zM409 148h6v1h-6zM415 149h3v1h-3zM418 150h2v1h-2zM420 151h2v1h-2zM422 152h1v1h-1zM423 153h2v1h-2zM425 154h2v1h-2zM427 155h1v1h-1zM428 156h2v1h-2zM430 157h2v1h-2zM432 158h2v1h-2zM434 159h2v1h-2zM436 160h2v1h-2zM438 161h2v1h-2zM440 162h2v1h-2zM442 163h2v1h-2zM444 164h2v1h-2zM446 165h2v1h-2zM448 166h2v1h-2zM450 167h2v1h-2zM452 168h1v1h-1zM453 169h2v1h-2zM455 170h2v1h-2zM457 171h2v1h-2zM459 172h1v1h-1zM460 173h2v1h-2zM462 174h2v1h-2zM464 175h2v1h-2zM466 176h2v1h-2zM468 177h2v1h-2zM470 178h3v1h-3zM473 179h2v1h-2zM475 180h3v1h-3zM478 181h18v1h-18zM496 180h26v1h-26zM522 181h11v1h-11zM533 182h5v1h-5zM538 183h6v1h-6zM544 184h4v1h-4zM548 185h4v1h-4zM552 186h4v1h-4zM556 187h4v1h-4zM560 188h5v1h-5zM565 189h4v1h-4zM569 190h4v1h-4zM573 191h3v1h-3zM576 192h2v1h-2zM578 193h3v1h-3zM581 194h9v1h-9zM590 193h13v1h-13zM603 192h10v1h-10zM613 191h8v1h-8zM621 190h12v1h-12zM633 189h21v1h-21zM654 188h6v1h-6zM660 189h4v1h-4zM664 190h3v1h-3zM667 191h1v1h-1zM668 192h2v1h-2zM670 193h1v1h-1zM671 194h1v1h-1zM672 195h2v1h-2zM674 196h1v1h-1zM675 197h2v1h-2zM677 198h2v1h-2zM679 199h2v1h-2zM681 200h1v1h-1zM682 201h2v1h-2zM684 202h2v1h-2zM686 203h2v1h-2zM688 204h1v1h-1zM689 205h2v1h-2zM691 206h1v1h-1zM692 207h2v1h-2zM694 208h1v1h-1zM695 209h2v1h-2zM697 210h1v1h-1zM698 211h2v1h-2zM700 212h1v1h-1zM701 213h1v1h-1zM702 214h1v1h-1zM703 215h1v1h-1zM704 216h1v1h-1zM705 217h1v1h-1zM706 218h1v1h-1zM707 219h1v1h-1zM708 220h1v1h-1zM709 221h1v1h-1zM710 222h1v1h-1zM711 223h1v2h-1zM712 225h1v2h-1zM713 227h1v1h-1zM714 228h1v2h-1zM715 230h1v1h-1zM716 231h1v2h-1zM717 233h1v2h-1zM718 235h1v1h-1zM719 236h1v2h-1zM720 238h1v2h-1zM721 240h1v2h-1zM722 242h1v2h-1zM723 244h1v2h-1zM724 246h1v2h-1zM725 248h1v2h-1zM726 250h1v1h-1zM727 251h1v1h-1zM728 252h1v1h-1zM729 253h1v1h-1zM730 254h1v1h-1zM731 255h1v1h-1zM732 256h1v1h-1zM733 257h1v2h-1zM734 259h1v2h-1zM735 261h1v1h-1zM736 262h1v2h-1zM737 264h1v2h-1zM738 266h1v2h-1zM739 268h1v1h-1zM740 269h1v2h-1zM741 271h1v2h-1zM742 273h1v1h-1zM743 274h1v2h-1zM744 276h1v2h-1zM745 278h1v1h-1zM746 279h1v2h-1zM747 281h1v1h-1zM748 282h1v2h-1zM749 284h1v2h-1zM750 286h1v1h-1zM751 287h1v2h-1zM752 289h1v1h-1zM753 290h1v2h-1zM754 292h1v2h-1zM755 294h1v1h-1zM756 295h1v2h-1zM757 297h1v2h-1zM758 299h1v2h-1zM759 301h1v2h-1zM760 303h1v1h-1zM761 304h1v2h-1zM762 306h1v2h-1zM763 308h1v2h-1zM764 310h1v2h-1zM765 312h1v2h-1zM766 314h1v1h-1zM767 315h1v1h-1zM768 316h1v1h-1zM769 317h1v2h-1zM770 319h1v1h-1zM771 320h1v1h-1zM772 321h1v1h-1zM773 322h1v1h-1zM774 323h1v2h-1zM775 325h1v1h-1zM776 326h1v1h-1zM777 327h1v1h-1zM778 328h1v2h-1zM779 330h1v2h-1zM780 332h1v1h-1zM781 333h1v2h-1zM782 335h1v1h-1zM783 336h1v2h-1zM784 338h1v2h-1zM785 340h1v1h-1zM786 341h1v2h-1zM787 343h1v1h-1zM788 344h1v2h-1zM789 346h1v2h-1zM790 348h1v1h-1zM791 349h1v2h-1zM792 351h1v1h-1zM793 352h1v2h-1zM794 354h1v1h-1zM795 355h1v2h-1zM796 357h1v2h-1zM797 359h1v1h-1zM798 360h1v2h-1zM799 362h1v1h-1zM800 363h1v2h-1zM801 365h1v2h-1zM802 367h1v2h-1zM803 369h1v2h-1zM804 371h1v2h-1zM805 373h1v2h-1zM806 375h1v2h-1zM807 377h1v2h-1zM808 379h1v1h-1zM809 380h1v1h-1zM810 381h1v1h-1zM811 382h1v1h-1zM812 383h1v1h-1zM813 384h1v1h-1zM814 385h1v1h-1zM815 386h1v1h-1zM816 387h1v1h-1zM817 388h1v1h-1zM818 389h1v1h-1zM819 390h1v1h-1zM820 391h1v1h-1zM821 392h2v1h-2zM823 393h1v1h-1zM824 394h2v1h-2zM826 395h2v1h-2zM828 396h3v1h-3zM831 397h4v1h-4zM835 398h4v1h-4zM839 399h3v1h-3zM842 400h3v1h-3zM845 401h3v1h-3zM848 402h3v1h-3zM851 403h3v1h-3zM854 404h5v1h-5zM859 403h7v1h-7zM866 402h4v1h-4zM870 401h2v1h-2zM872 400h1v1h-1zM873 399h2v1h-2zM875 398h2v1h-2zM877 397h1v1h-1zM878 396h2v1h-2zM880 395h1v1h-1zM881 394h1v1h-1zM882 393h2v1h-2zM884 392h1v1h-1zM885 391h1v1h-1zM886 390h1v1h-1zM887 389h2v1h-2zM889 388h1v1h-1zM890 387h1v1h-1zM891 386h1v1h-1zM892 385h1v1h-1zM893 384h2v1h-2zM895 383h1v1h-1zM896 382h1v1h-1zM897 381h1v1h-1zM898 380h2v1h-2zM900 379h2v1h-2zM902 378h2v1h-2zM904 377h1v1h-1zM905 376h2v1h-2zM907 375h2v1h-2zM909 374h2v1h-2zM911 373h2v1h-2zM913 372h2v1h-2zM915 371h3v1h-3zM918 370h4v1h-4zM922 369h3v1h-3zM925 368h7v1h-7zM932 369h9v1h-9zM941 368h8v1h-8zM949 367h5v1h-5zM954 366h2v1h-2zM956 365h2v1h-2zM958 364h2v1h-2zM960 363h2v1h-2zM962 362h4v1h-4zM966 361h5v1h-5zM971 362h3v1h-3zM974 363h2v1h-2zM976 364h1v1h-1zM977 365h2v1h-2zM979 366h1v1h-1zM980 367h1v1h-1zM981 368h1v1h-1zM982 369h2v1h-2zM984 370h1v1h-1zM985 371h2v1h-2zM987 372h3v1h-3zM990 373h3v1h-3zM993 374h3v1h-3zM996 375h2v1h-2zM998 376h3v1h-3zM1001 377h3v1h-3zM1004 378h2v1h-2zM1006 379h5v1h-5zM1011 378h6v1h-6zM1017 377h9v1h-9zM1026 378h7v1h-7zM1033 377h3v1h-3zM1036 376h2v1h-2zM1038 375h3v1h-3zM1041 374h3v1h-3zM1044 373h2v1h-2zM1046 372h2v1h-2zM1048 371h3v1h-3zM1051 370h2v1h-2zM1053 369h2v1h-2zM1055 368h1v1h-1zM1056 367h2v1h-2zM1058 366h1v1h-1zM1059 365h1v1h-1zM1060 364h1v1h-1zM1061 363h2v1h-2zM1063 362h1v1h-1zM1064 361h1v1h-1zM1065 360h1v1h-1zM1066 359h1v1h-1zM1067 358h1v1h-1zM1068 357h1v1h-1zM1069 356h1v1h-1zM1070 355h1v1h-1zM1071 354h1v1h-1zM1072 353h1v1h-1zM1073 352h1v1h-1zM1074 350h1v2h-1zM1075 349h1v1h-1zM1076 348h1v1h-1zM1077 346h1v2h-1zM1078 345h1v1h-1zM1079 344h1v1h-1zM1080 342h1v2h-1zM1081 341h1v1h-1zM1082 339h1v2h-1zM1083 338h1v1h-1zM1084 336h1v2h-1zM1085 334h1v2h-1zM1086 333h1v1h-1zM1087 331h1v2h-1zM1088 330h1v1h-1zM1089 329h1v1h-1zM1090 328h1v1h-1zM1091 327h1v1h-1zM1092 326h1v1h-1zM1093 324h1v2h-1zM1094 323h1v1h-1zM1095 322h1v1h-1zM1096 321h1v1h-1zM1097 320h1v1h-1zM1098 319h1v1h-1zM1099 318h1v1h-1zM1100 317h1v1h-1zM1101 316h1v1h-1zM1102 314h1v2h-1zM1103 313h1v1h-1zM1104 312h1v1h-1zM1105 311h1v1h-1zM1106 310h1v1h-1zM1107 309h1v1h-1zM1108 308h1v1h-1zM1109 307h1v1h-1zM1110 306h1v1h-1zM1111 304h1v2h-1zM1112 303h1v1h-1zM1113 302h1v1h-1zM1114 301h1v1h-1zM1115 300h1v1h-1zM1116 299h1v1h-1zM1117 298h1v1h-1zM1118 297h1v1h-1zM1119 296h1v1h-1zM1120 294h1v2h-1zM1121 293h1v1h-1zM1122 292h1v1h-1zM1123 291h1v1h-1zM1124 290h1v1h-1zM1125 289h1v1h-1zM1126 288h1v1h-1zM1127 287h1v1h-1zM1128 286h1v1h-1zM1129 285h1v1h-1zM1130 284h1v1h-1zM1131 283h1v1h-1zM1132 282h1v1h-1zM1133 281h1v1h-1zM1134 280h1v1h-1zM1135 279h1v1h-1zM1136 278h1v1h-1zM1137 277h1v1h-1zM1138 276h1v1h-1zM1139 274h1v2h-1zM1140 273h1v1h-1zM1141 271h1v2h-1zM1142 270h1v1h-1zM1143 269h1v1h-1zM1144 267h1v2h-1zM1145 266h1v1h-1zM1146 264h1v2h-1zM1147 263h1v1h-1zM1148 261h1v2h-1zM1149 260h1v1h-1zM1150 259h1v1h-1zM1151 258h1v1h-1zM1152 256h1v2h-1zM1153 255h1v1h-1zM1154 254h1v1h-1zM1155 253h1v1h-1zM1156 252h1v1h-1zM1157 250h1v2h-1zM1158 249h1v1h-1zM1159 248h1v1h-1zM1160 247h1v1h-1zM1161 245h1v2h-1zM1162 244h1v1h-1zM1163 243h1v1h-1zM1164 241h1v2h-1zM1165 240h1v1h-1zM1166 239h1v1h-1zM1167 237h1v2h-1zM1168 236h1v1h-1zM1169 235h1v1h-1zM1170 234h1v1h-1zM1171 233h1v1h-1zM1172 232h1v1h-1zM1173 231h1v1h-1zM1174 230h1v1h-1zM1175 229h1v1h-1zM1176 228h1v1h-1zM1177 227h1v1h-1zM1178 226h1v1h-1zM1179 225h1v1h-1zM1180 224h1v1h-1zM1181 223h1v1h-1zM1182 222h1v1h-1zM1183 221h1v1h-1zM1184 220h1v1h-1zM1185 219h1v1h-1zM1186 218h1v1h-1zM1187 217h1v1h-1zM1188 216h2v1h-2zM1190 215h1v1h-1zM1191 214h1v1h-1zM1192 213h2v1h-2zM1194 212h1v1h-1zM1195 211h2v1h-2zM1197 210h1v1h-1zM1198 209h2v1h-2zM1200 208h1v1h-1zM1201 207h2v1h-2zM1203 206h1v1h-1zM1204 205h2v1h-2zM1206 204h2v1h-2zM1208 203h3v1h-3zM1211 202h3v1h-3zM1214 201h4v1h-4zM1218 200h4v1h-4zM1222 199h5v1h-5zM1227 198h4v1h-4zM1231 197h4v1h-4zM1235 196h4v1h-4zM1239 195h4v1h-4zM1243 194h5v1h-5zM1248 193h6v1h-6zM1254 192h3v1h-3zM1257 191h2v1h-2zM1259 190h2v1h-2zM1261 189h2v1h-2zM1263 188h1v1h-1zM1264 187h2v1h-2zM1266 186h2v1h-2zM1268 185h2v1h-2zM1270 184h2v1h-2zM1272 183h2v1h-2zM1274 182h2v1h-2zM1276 181h3v1h-3zM1279 180h3v1h-3zM1282 179h2v1h-2zM1284 178h3v1h-3zM1287 177h3v1h-3zM1290 176h3v1h-3zM1293 175h4v1h-4zM1297 174h3v1h-3zM1300 173h5v1h-5zM1305 172h6v1h-6zM1311 173h6v1h-6zM1317 174h4v1h-4zM1321 175h4v1h-4zM1325 176h2v1h-2z"/>
<path d="M0 271h25v1h-25zM25 270h2v1h-2zM27 269h3v1h-3zM30 268h2v1h-2zM32 267h3v1h-3zM35 266h2v1h-2zM37 265h2v1h-2zM39 264h2v1h-2zM41 263h1v1h-1zM42 262h2v1h-2zM44 261h2v1h-2zM46 260h1v1h-1zM47 259h2v1h-2zM49 258h1v1h-1zM50 257h2v1h-2zM52 256h2v1h-2zM54 255h1v1h-1zM55 254h1v1h-1zM56 253h1v1h-1zM57 252h1v1h-1zM58 251h1v1h-1zM59 250h1v1h-1zM60 249h1v1h-1zM61 248h1v1h-1zM62 247h1v1h-1zM63 246h1v1h-1zM64 245h1v1h-1zM65 243h1v2h-1zM66 241h1v2h-1zM67 239h1v2h-1zM68 237h1v2h-1zM69 235h1v2h-1zM70 233h1v2h-1zM71 231h1v2h-1zM72 229h1v2h-1zM73 227h1v2h-1zM74 226h1v1h-1zM75 224h1v2h-1zM76 222h1v2h-1zM77 220h1v2h-1zM78 218h1v2h-1zM79 216h1v2h-1zM80 214h1v2h-1zM81 212h1v2h-1zM82 210h1v2h-1zM83 208h1v2h-1zM84 206h1v2h-1zM85 204h1v2h-1zM86 203h1v1h-1zM87 201h1v2h-1zM88 200h1v1h-1zM89 199h1v1h-1zM90 198h1v1h-1zM91 196h1v2h-1zM92 195h1v1h-1zM93 194h1v1h-1zM94 193h1v1h-1zM95 191h1v2h-1zM96 190h1v1h-1zM97 189h1v1h-1zM98 188h1v1h-1zM99 186h1v2h-1zM100 185h1v1h-1zM101 184h1v1h-1zM102 182h1v2h-1zM103 181h1v1h-1zM104 179h1v2h-1zM105 178h1v1h-1zM106 176h1v2h-1zM107 175h1v1h-1zM108 174h1v1h-1zM109 172h1v2h-1zM110 171h1v1h-1zM111 169h1v2h-1zM112 168h1v1h-1zM113 166h1v2h-1zM114 165h1v1h-1zM115 163h1v2h-1zM116 162h1v1h-1zM117 161h1v1h-1zM118 160h1v1h-1zM119 159h1v1h-1zM120 158h1v1h-1zM121 156h1v2h-1zM122 155h1v1h-1zM123 154h1v1h-1zM124 153h1v1h-1zM125 152h1v1h-1zM126 151h1v1h-1zM127 150h2v1h-2zM129 149h1v1h-1zM130 148h2v1h-2zM132 147h1v1h-1zM133 146h2v1h-2zM135 145h4v1h-4zM139 146h5v1h-5zM144 147h2v1h-2zM146 148h2v1h-2zM148 149h2v1h-2zM150 150h3v1h-3zM153 151h2v1h-2zM155 152h2v1h-2zM157 153h3v1h-3zM160 154h2v1h-2zM162 155h2v1h-2zM164 156h2v1h-2zM166 157h2v1h-2zM168 158h2v1h-2zM170 159h2v1h-2zM172 160h2v1h-2zM174 161h4v1h-4zM178 162h6v1h-6zM184 163h5v1h-5zM189 164h6v1h-6zM195 165h22v1h-22zM217 164h2v1h-2zM219 163h2v1h-2zM221 162h2v1h-2zM223 161h2v1h-2zM225 160h2v1h-2zM227 159h2v1h-2zM229 158h1v1h-1zM230 157h2v1h-2zM232 156h1v1h-1zM233 155h1v1h-1zM234 154h2v1h-2zM236 153h1v1h-1zM237 152h2v1h-2zM239 151h1v1h-1zM240 150h2v1h-2zM242 149h1v1h-1zM243 148h1v1h-1zM244 147h2v1h-2zM246 146h2v1h-2zM248 147h16v1h-16zM264 148h1v1h-1zM265 149h1v1h-1zM266 150h1v1h-1zM267 151h2v1h-2zM269 152h1v1h-1zM270 153h1v1h-1zM271 154h13v1h-13zM284 153h5v1h-5zM289 152h22v1h-22zM311 151h9v1h-9zM320 152h1v2h-1zM321 154h1v1h-1zM322 155h1v2h-1zM323 157h1v1h-1zM324 158h1v2h-1zM325 160h1v1h-1zM326 161h1v2h-1zM327 163h1v1h-1zM328 164h1v2h-1zM329 166h1v1h-1zM330 167h1v2h-1zM331 169h1v1h-1zM332 170h1v2h-1zM333 172h1v1h-1zM334 173h1v2h-1zM335 175h2v1h-2zM337 176h3v1h-3zM340 177h3v1h-3zM343 178h4v1h-4zM347 179h3v1h-3zM350 180h2v1h-2zM352 181h1v1h-1zM353 182h1v2h-1zM354 184h1v1h-1zM355 185h1v1h-1zM356 186h1v1h-1zM357 187h1v2h-1zM358 189h1v1h-1zM359 190h1v1h-1zM360 191h1v1h-1zM361 192h1v1h-1zM362 193h1v1h-1zM363 194h1v2h-1zM364 196h1v1h-1zM365 197h1v1h-1zM366 198h1v1h-1zM367 199h1v1h-1zM368 200h2v1h-2zM370 201h1v1h-1zM371 202h1v1h-1zM372 203h2v1h-2zM374 204h1v1h-1zM375 205h2v1h-2zM377 206h2v1h-2zM379 207h2v1h-2zM381 208h2v1h-2zM383 209h8v1h-8zM391 208h16v1h-16zM407 209h9v1h-9zM416 210h2v1h-2zM418 211h2v1h-2zM420 212h2v1h-2zM422 213h2v1h-2zM424 214h1v1h-1zM425 215h1v2h-1zM426 217h1v1h-1zM427 218h1v1h-1zM428 219h1v2h-1zM429 221h2v1h-2zM431 222h2v1h-2zM433 223h3v1h-3zM436 224h2v1h-2zM438 225h2v1h-2zM440 226h3v1h-3zM443 227h2v1h-2zM445 228h2v1h-2zM447 229h1v1h-1zM448 230h1v1h-1zM449 231h1v1h-1zM450 232h2v1h-2zM452 233h1v1h-1zM453 234h1v1h-1zM454 235h1v1h-1zM455 236h1v1h-1zM456 237h1v1h-1zM457 238h1v1h-1zM458 239h2v1h-2zM460 240h1v1h-1zM461 241h1v1h-1zM462 242h1v1h-1zM463 241h2v1h-2zM465 240h2v1h-2zM467 239h2v1h-2zM469 238h2v1h-2zM471 237h2v1h-2zM473 236h2v1h-2zM475 235h2v1h-2zM477 234h9v1h-9zM486 233h28v1h-28zM514 234h5v1h-5zM519 235h6v1h-6zM525 236h5v1h-5zM530 237h5v1h-5zM535 238h6v1h-6zM541 239h5v1h-5zM546 238h6v1h-6zM552 237h11v1h-11zM563 236h10v1h-10zM573 237h3v1h-3zM576 238h2v1h-2zM578 239h3v1h-3zM581 240h4v1h-4zM585 239h6v1h-6zM591 238h9v1h-9zM600 237h7v1h-7zM607 236h2v1h-2zM609 235h2v1h-2zM611 234h2v1h-2zM613 233h2v1h-2zM615 232h2v1h-2zM617 231h2v1h-2zM619 230h1v1h-1zM620 229h1v1h-1zM621 228h2v1h-2zM623 227h24v1h-24zM647 228h11v1h-11zM658 229h6v1h-6zM664 230h1v2h-1zM665 232h1v2h-1zM666 234h1v1h-1zM667 235h1v2h-1zM668 237h1v2h-1zM669 239h1v2h-1zM670 241h1v2h-1zM671 243h1v2h-1zM672 245h1v2h-1zM673 247h1v2h-1zM674 249h1v3h-1zM675 252h1v3h-1zM676 255h1v2h-1zM677 257h1v3h-1zM678 260h1v3h-1zM679 263h1v3h-1zM680 266h1v3h-1zM681 269h1v3h-1zM682 272h1v2h-1zM683 274h1v2h-1zM684 276h1v2h-1zM685 278h1v2h-1zM686 280h1v1h-1zM687 281h1v2h-1zM688 283h1v2h-1zM689 285h1v2h-1zM690 287h1v2h-1zM691 289h1v2h-1zM692 291h1v2h-1zM693 293h1v2h-1zM694 295h1v2h-1zM695 297h1v2h-1zM696 299h1v2h-1zM697 301h1v2h-1zM698 303h1v2h-1zM699 305h1v2h-1zM700 307h1v3h-1zM701 310h1v2h-1zM702 312h1v3h-1zM703 315h1v3h-1zM704 318h1v2h-1zM705 320h1v3h-1zM706 323h1v3h-1zM707 326h1v4h-1zM708 330h1v4h-1zM709 334h1v4h-1zM710 338h1v4h-1zM711 342h1v4h-1zM712 346h1v6h-1zM713 352h1v6h-1zM714 358h1v7h-1zM715 365h1v6h-1zM716 371h1v6h-1zM717 377h1v4h-1zM718 381h1v5h-1zM719 386h1v5h-1zM720 391h1v4h-1zM721 395h1v5h-1zM722 400h1v5h-1zM723 405h1v5h-1zM724 410h1v5h-1zM725 415h1v5h-1zM726 420h1v5h-1zM727 425h1v5h-1zM728 430h1v5h-1zM729 435h1v4h-1zM730 439h1v4h-1zM731 443h1v4h-1zM732 447h1v5h-1zM733 452h1v4h-1zM734 456h1v4h-1zM735 460h1v4h-1zM736 464h1v4h-1zM737 468h1v4h-1zM738 472h1v4h-1zM739 476h1v3h-1zM740 479h1v4h-1zM741 483h1v4h-1zM742 487h1v3h-1zM743 490h1v4h-1zM744 494h1v4h-1zM745 498h1v3h-1zM746 501h1v2h-1zM747 503h1v3h-1zM748 506h1v2h-1zM749 508h1v3h-1zM750 511h1v3h-1zM751 514h1v2h-1zM752 516h1v3h-1zM753 519h1v3h-1zM754 522h1v3h-1zM755 525h1v3h-1zM756 528h1v4h-1zM757 532h1v3h-1zM758 535h1v3h-1zM759 538h1v3h-1zM760 541h1v3h-1zM761 544h1v2h-1zM762 546h1v3h-1zM763 549h1v3h-1zM764 552h1v2h-1zM765 554h1v3h-1zM766 557h1v2h-1zM767 559h1v2h-1zM768 561h1v1h-1zM769 562h1v1h-1zM770 563h1v2h-1zM771 565h1v1h-1zM772 566h1v1h-1zM773 567h1v1h-1zM774 568h1v1h-1zM775 569h1v1h-1zM776 570h1v1h-1zM777 571h1v1h-1zM778 572h1v1h-1zM779 573h1v1h-1zM780 574h2v1h-2zM782 575h1v1h-1zM783 576h1v1h-1zM784 577h2v1h-2zM786 578h2v1h-2zM788 579h2v1h-2zM790 580h10v1h-10zM800 579h2v1h-2zM802 578h1v1h-1zM803 577h1v1h-1zM804 576h2v1h-2zM806 575h1v1h-1zM807 573h1v2h-1zM808 571h1v2h-1zM809 569h1v2h-1zM810 567h1v2h-1zM811 565h1v2h-1zM812 563h1v2h-1zM813 561h1v2h-1zM814 558h1v3h-1zM815 556h1v2h-1zM816 554h1v2h-1zM817 551h1v3h-1zM818 549h1v2h-1zM819 547h1v2h-1zM820 545h1v2h-1zM821 543h1v2h-1zM822 541h1v2h-1zM823 539h1v2h-1zM824 538h1v1h-1zM825 537h2v1h-2zM827 536h1v1h-1zM828 535h1v1h-1zM829 534h2v1h-2zM831 533h2v1h-2zM833 532h4v1h-4zM837 531h3v1h-3zM840 530h2v1h-2zM842 529h2v1h-2zM844 528h2v1h-2zM846 527h2v1h-2zM848 526h1v1h-1zM849 525h2v1h-2zM851 524h2v1h-2zM853 523h2v1h-2zM855 522h4v1h-4zM859 523h6v1h-6zM865 524h2v1h-2zM867 525h2v1h-2zM869 526h2v1h-2zM871 525h2v1h-2zM873 524h1v1h-1zM874 523h1v1h-1zM875 522h2v1h-2zM877 521h1v1h-1zM878 520h1v1h-1zM879 519h2v1h-2zM881 518h1v1h-1zM882 517h1v1h-1zM883 516h2v1h-2zM885 515h1v1h-1zM886 514h1v1h-1zM887 513h1v1h-1zM888 512h1v1h-1zM889 511h1v1h-1zM890 510h1v1h-1zM891 509h1v1h-1zM892 508h1v1h-1zM893 507h1v1h-1zM894 506h1v1h-1zM895 505h1v1h-1zM896 504h1v1h-1zM897 503h1v1h-1zM898 502h1v1h-1zM899 501h1v1h-1zM900 500h1v1h-1zM901 498h1v2h-1zM902 497h1v1h-1zM903 496h1v1h-1zM904 495h1v1h-1zM905 494h1v1h-1zM906 493h1v1h-1zM907 492h1v1h-1zM908 490h1v2h-1zM909 489h1v1h-1zM910 488h1v1h-1zM911 487h1v1h-1zM912 486h1v1h-1zM913 485h1v1h-1zM914 483h1v2h-1zM915 481h1v2h-1zM916 480h1v1h-1zM917 479h1v1h-1zM918 478h1v1h-1zM919 476h1v2h-1zM920 475h1v1h-1zM921 474h1v1h-1zM922 473h1v1h-1zM923 472h1v1h-1zM924 470h1v2h-1zM925 469h1v1h-1zM926 468h1v1h-1zM927 467h2v1h-2zM929 468h4v1h-4zM933 469h4v1h-4zM937 468h3v1h-3zM940 467h3v1h-3zM943 466h4v1h-4zM947 465h3v1h-3zM950 464h2v1h-2zM952 463h1v1h-1zM953 462h1v1h-1zM954 461h1v1h-1zM955 460h2v1h-2zM957 459h1v1h-1zM958 458h1v1h-1zM959 457h1v1h-1zM960 456h1v1h-1zM961 455h1v1h-1zM962 454h1v1h-1zM963 453h1v1h-1zM964 451h1v2h-1zM965 450h1v1h-1zM966 449h1v1h-1zM967 448h2v1h-2zM969 449h4v1h-4zM973 450h3v1h-3zM976 451h1v1h-1zM977 452h1v1h-1zM978 453h1v1h-1zM979 454h2v1h-2zM981 455h1v1h-1zM982 456h1v1h-1zM983 457h3v1h-3zM986 458h6v1h-6zM992 459h4v1h-4zM996 460h2v1h-2zM998 461h3v1h-3zM1001 462h3v1h-3zM1004 463h2v1h-2zM1006 464h3v1h-3zM1009 465h4v1h-4zM1013 466h11v1h-11zM1024 465h10v1h-10zM1034 466h2v1h-2zM1036 467h3v1h-3zM1039 468h2v1h-2zM1041 469h2v1h-2zM1043 470h2v1h-2zM1045 471h1v1h-1zM1046 472h1v1h-1zM1047 473h2v1h-2zM1049 474h1v1h-1zM1050 475h1v1h-1zM1051 476h1v2h-1zM1052 478h1v1h-1zM1053 479h1v1h-1zM1054 480h1v2h-1zM1055 482h1v1h-1zM1056 483h1v2h-1zM1057 485h1v2h-1zM1058 487h1v2h-1zM1059 489h1v2h-1zM1060 491h1v2h-1zM1061 493h1v2h-1zM1062 495h1v2h-1zM1063 497h1v2h-1zM1064 498h1v1h-1zM1065 499h4v1h-4zM1069 500h3v1h-3zM1072 499h2v1h-2zM1074 498h2v1h-2zM1076 497h2v1h-2zM1078 496h2v1h-2zM1080 495h2v1h-2zM1082 494h1v1h-1zM1083 493h2v1h-2zM1085 492h2v1h-2zM1087 491h1v1h-1zM1088 490h1v1h-1zM1089 488h1v2h-1zM1090 487h1v1h-1zM1091 486h1v1h-1zM1092 484h1v2h-1zM1093 483h1v1h-1zM1094 482h1v1h-1zM1095 481h1v1h-1zM1096 480h1v1h-1zM1097 478h1v2h-1zM1098 477h1v1h-1zM1099 476h1v1h-1zM1100 474h1v2h-1zM1101 473h1v1h-1zM1102 471h1v2h-1zM1103 469h1v2h-1zM1104 467h1v2h-1zM1105 465h1v2h-1zM1106 464h1v1h-1zM1107 462h1v2h-1zM1108 461h1v1h-1zM1109 459h1v2h-1zM1110 458h1v1h-1zM1111 457h1v1h-1zM1112 456h1v1h-1zM1113 455h1v1h-1zM1114 454h2v1h-2zM1116 453h1v1h-1zM1117 452h2v1h-2zM1119 451h2v1h-2zM1121 450h1v1h-1zM1122 448h1v2h-1zM1123 447h1v1h-1zM1124 445h1v2h-1zM1125 444h1v1h-1zM1126 442h1v2h-1zM1127 441h1v1h-1zM1128 439h1v2h-1zM1129 438h1v1h-1zM1130 436h1v2h-1zM1131 435h1v1h-1zM1132 433h1v2h-1zM1133 432h1v1h-1zM1134 430h1v2h-1zM1135 428h1v2h-1zM1136 425h1v3h-1zM1137 422h1v3h-1zM1138 419h1v3h-1zM1139 415h1v4h-1zM1140 412h1v3h-1zM1141 409h1v3h-1zM1142 406h1v3h-1zM1143 403h1v3h-1zM1144 401h1v2h-1zM1145 398h1v3h-1zM1146 395h1v3h-1zM1147 393h1v2h-1zM1148 390h1v3h-1zM1149 387h1v3h-1zM1150 385h1v2h-1zM1151 382h1v3h-1zM1152 378h1v4h-1zM1153 374h1v4h-1zM1154 370h1v4h-1zM1155 367h1v3h-1zM1156 363h1v4h-1zM1157 359h1v4h-1zM1158 355h1v4h-1zM1159 352h1v3h-1zM1160 349h1v3h-1zM1161 347h1v2h-1zM1162 344h1v3h-1zM1163 341h1v3h-1zM1164 339h1v2h-1zM1165 337h1v2h-1zM1166 335h1v2h-1zM1167 333h1v2h-1zM1168 331h1v2h-1zM1169 329h1v2h-1zM1170 327h1v2h-1zM1171 325h1v2h-1zM1172 323h1v2h-1zM1173 321h1v2h-1zM1174 319h1v2h-1zM1175 317h1v2h-1zM1176 315h1v2h-1zM1177 313h1v2h-1zM1178 311h1v2h-1zM1179 309h1v2h-1zM1180 307h1v2h-1zM1181 305h1v2h-1zM1182 303h1v2h-1zM1183 301h1v2h-1zM1184 300h1v1h-1zM1185 298h1v2h-1zM1186 296h1v2h-1zM1187 295h1v1h-1zM1188 293h1v2h-1zM1189 292h1v1h-1zM1190 290h1v2h-1zM1191 288h1v2h-1zM1192 287h1v1h-1zM1193 285h1v2h-1zM1194 283h1v2h-1zM1195 281h1v2h-1zM1196 279h1v2h-1zM1197 277h1v2h-1zM1198 275h1v2h-1zM1199 273h1v2h-1zM1200 272h1v1h-1zM1201 270h1v2h-1zM1202 268h1v2h-1zM1203 266h1v2h-1zM1204 264h1v2h-1zM1205 262h1v2h-1zM1206 261h2v1h-2zM1208 260h2v1h-2zM1210 259h3v1h-3zM1213 258h5v1h-5zM1218 257h6v1h-6zM1224 256h2v1h-2zM1226 255h2v1h-2zM1228 254h3v1h-3zM1231 253h2v1h-2zM1233 252h2v1h-2zM1235 251h11v1h-11zM1246 250h11v1h-11zM1257 249h1v1h-1zM1258 248h1v1h-1zM1259 247h1v1h-1zM1260 246h1v1h-1zM1261 245h1v1h-1zM1262 244h1v1h-1zM1263 243h1v1h-1zM1264 242h1v1h-1zM1265 241h1v1h-1zM1266 240h1v1h-1zM1267 239h1v1h-1zM1268 238h1v1h-1zM1269 236h1v2h-1zM1270 235h1v1h-1zM1271 234h1v1h-1zM1272 233h2v1h-2zM1274 232h2v1h-2zM1276 231h2v1h-2zM1278 230h2v1h-2zM1280 229h2v1h-2zM1282 227h1v2h-1zM1283 226h1v1h-1zM1284 225h1v1h-1zM1285 223h1v2h-1zM1286 222h1v1h-1zM1287 220h1v2h-1zM1288 219h1v1h-1zM1289 218h1v1h-1zM1290 217h1v1h-1zM1291 216h1v1h-1zM1292 214h1v2h-1zM1293 213h1v1h-1zM1294 212h1v1h-1zM1295 211h1v1h-1zM1296 210h1v1h-1zM1297 209h1v1h-1zM1298 208h1v1h-1zM1299 206h1v2h-1zM1300 205h1v1h-1zM1301 204h1v1h-1zM1302 203h4v1h-4zM1306 202h5v1h-5zM1311 203h2v1h-2zM1313 204h1v1h-1zM1314 205h1v1h-1zM1315 206h2v1h-2zM1317 207h1v1h-1zM1318 208h1v2h-1zM1319 210h1v2h-1zM1320 212h1v2h-1zM1321 214h1v2h-1zM1322 216h1v2h-1zM1323 218h1v2h-1zM1324 220h1v1h-1z"/>
</g>
<rect x="0" y="236" width="1627" height="1" fill="#c0c0c0" shape-rendering="crispEdges"/>
<g shape-rendering="crispEdges">
<rect x="0" y="119" width="1627" height="2" fill="#ff0000"/>
<rect x="-1.25" y="117.8" width="4.5" height="4.5" fill="#fff" stroke="#ff0000" stroke-width="1.5" shape-rendering="auto"/>
<rect x="1621.75" y="117.8" width="4.5" height="4.5" fill="#fff" stroke="#ff0000" stroke-width="1.5" shape-rendering="auto"/>
<rect x="0" y="165" width="1627" height="2" fill="#ff0000"/>
<rect x="-1.25" y="163.8" width="4.5" height="4.5" fill="#fff" stroke="#ff0000" stroke-width="1.5" shape-rendering="auto"/>
<rect x="1621.75" y="163.8" width="4.5" height="4.5" fill="#fff" stroke="#ff0000" stroke-width="1.5" shape-rendering="auto"/>
<rect x="0" y="213" width="1627" height="2" fill="#2fc92f"/>
<rect x="-1.25" y="211.8" width="4.5" height="4.5" fill="#fff" stroke="#2fc92f" stroke-width="1.5" shape-rendering="auto"/>
<rect x="1621.75" y="211.8" width="4.5" height="4.5" fill="#fff" stroke="#2fc92f" stroke-width="1.5" shape-rendering="auto"/>
<rect x="0" y="275" width="1627" height="2" fill="#0000ff"/>
<rect x="-1.25" y="273.8" width="4.5" height="4.5" fill="#fff" stroke="#0000ff" stroke-width="1.5" shape-rendering="auto"/>
<rect x="1621.75" y="273.8" width="4.5" height="4.5" fill="#fff" stroke="#0000ff" stroke-width="1.5" shape-rendering="auto"/>
<rect x="0" y="332" width="1627" height="2" fill="#0000ff"/>
<rect x="-1.25" y="330.8" width="4.5" height="4.5" fill="#fff" stroke="#0000ff" stroke-width="1.5" shape-rendering="auto"/>
<rect x="1621.75" y="330.8" width="4.5" height="4.5" fill="#fff" stroke="#0000ff" stroke-width="1.5" shape-rendering="auto"/>
</g>
<g shape-rendering="crispEdges">
<rect x="23" y="100" width="1" height="23" fill="#000"/>
<rect x="21" y="100" width="5" height="1" fill="#000"/>
<rect x="95" y="107" width="1" height="27" fill="#000"/>
<rect x="93" y="120" width="5" height="13" fill="#000"/>
<rect x="103" y="126" width="1" height="28" fill="#000"/>
<rect x="101.5" y="127.5" width="4" height="4" fill="#fff" stroke="#000" stroke-width="1"/>
<rect x="111" y="107" width="1" height="33" fill="#000"/>
<rect x="109.5" y="119.5" width="4" height="8" fill="#fff" stroke="#000" stroke-width="1"/>
<rect x="119" y="107" width="1" height="26" fill="#000"/>
<rect x="117" y="118" width="5" height="2" fill="#000"/>
<rect x="127" y="107" width="1" height="38" fill="#000"/>
<rect x="125" y="118" width="5" height="25" fill="#000"/>
<rect x="135" y="121" width="1" height="22" fill="#000"/>
<rect x="133.5" y="131.5" width="4" height="11" fill="#fff" stroke="#000" stroke-width="1"/>
<rect x="143" y="107" width="1" height="26" fill="#000"/>
<rect x="141.5" y="124.5" width="4" height="8" fill="#fff" stroke="#000" stroke-width="1"/>
<rect x="151" y="121" width="1" height="20" fill="#000"/>
<rect x="149" y="122" width="5" height="12" fill="#000"/>
<rect x="159" y="132" width="1" height="15" fill="#000"/>
<rect x="157" y="134" width="5" height="4" fill="#000"/>
<rect x="167" y="127" width="1" height="25" fill="#000"/>
<rect x="165" y="137" width="5" height="3" fill="#000"/>
<rect x="175" y="134" width="1" height="27" fill="#000"/>
<rect x="173" y="139" width="5" height="2" fill="#000"/>
<rect x="183" y="120" width="1" height="31" fill="#000"/>
<rect x="181.5" y="121.5" width="4" height="17" fill="#fff" stroke="#000" stroke-width="1"/>
<rect x="191" y="118" width="1" height="12" fill="#000"/>
<rect x="189" y="121" width="5" height="4" fill="#000"/>
<rect x="199" y="124" width="1" height="13" fill="#000"/>
<rect x="197" y="124" width="5" height="10" fill="#000"/>
<rect x="207" y="130" width="1" height="11" fill="#000"/>
<rect x="205" y="132" width="5" height="2" fill="#000"/>
<rect x="215" y="127" width="1" height="14" fill="#000"/>
<rect x="213" y="132" width="5" height="5" fill="#000"/>
<rect x="223" y="128" width="1" height="23" fill="#000"/>
<rect x="221" y="136" width="5" height="6" fill="#000"/>
<rect x="231" y="105" width="1" height="85" fill="#000"/>
<rect x="229.5" y="111.5" width="4" height="31" fill="#fff" stroke="#000" stroke-width="1"/>
<rect x="239" y="100" width="1" height="21" fill="#000"/>
<rect x="237" y="110" width="5" height="8" fill="#000"/>
<rect x="247" y="103" width="1" height="37" fill="#000"/>
<rect x="245" y="116" width="5" height="18" fill="#000"/>
<rect x="255" y="123" width="1" height="37" fill="#000"/>
<rect x="253.5" y="129.5" width="4" height="4" fill="#fff" stroke="#000" stroke-width="1"/>
<rect x="263" y="122" width="1" height="15" fill="#000"/>
<rect x="261.5" y="125.5" width="4" height="2" fill="#fff" stroke="#000" stroke-width="1"/>
<rect x="271" y="74" width="1" height="53" fill="#000"/>
<rect x="269.5" y="84.5" width="4" height="42" fill="#fff" stroke="#000" stroke-width="1"/>
<rect x="279" y="81" width="1" height="60" fill="#000"/>
<rect x="277" y="83" width="5" height="51" fill="#000"/>
<rect x="287" y="121" width="1" height="14" fill="#000"/>
<rect x="285.5" y="125.5" width="4" height="6" fill="#fff" stroke="#000" stroke-width="1"/>
<rect x="295" y="120" width="1" height="18" fill="#000"/>
<rect x="293" y="125" width="5" height="2" fill="#000"/>
<rect x="303" y="116" width="1" height="20" fill="#000"/>
<rect x="301.5" y="117.5" width="4" height="8" fill="#fff" stroke="#000" stroke-width="1"/>
<rect x="311" y="109" width="1" height="17" fill="#000"/>
<rect x="309.5" y="115.5" width="4" height="2" fill="#fff" stroke="#000" stroke-width="1"/>
<rect x="319" y="101" width="1" height="24" fill="#000"/>
<rect x="317" y="115" width="5" height="1" fill="#000"/>
<rect x="327" y="109" width="1" height="77" fill="#000"/>
<rect x="325" y="115" width="5" height="69" fill="#000"/>
<rect x="335" y="176" width="1" height="18" fill="#000"/>
<rect x="333" y="185" width="5" height="7" fill="#000"/>
<rect x="343" y="150" width="1" height="10" fill="#000"/>
<rect x="341" y="153" width="5" height="4" fill="#000"/>
<rect x="351" y="146" width="1" height="19" fill="#000"/>
<rect x="349" y="156" width="5" height="5" fill="#000"/>
<rect x="359" y="147" width="1" height="44" fill="#000"/>
<rect x="357" y="159" width="5" height="32" fill="#000"/>
<rect x="367" y="186" width="1" height="31" fill="#000"/>
<rect x="365" y="191" width="5" height="11" fill="#000"/>
<rect x="375" y="172" width="1" height="52" fill="#000"/>
<rect x="373.5" y="177.5" width="4" height="25" fill="#fff" stroke="#000" stroke-width="1"/>
<rect x="383" y="159" width="1" height="23" fill="#000"/>
<rect x="381" y="176" width="5" height="4" fill="#000"/>
<rect x="391" y="126" width="1" height="53" fill="#000"/>
<rect x="389.5" y="138.5" width="4" height="39" fill="#fff" stroke="#000" stroke-width="1"/>
<rect x="399" y="131" width="1" height="18" fill="#000"/>
<rect x="397" y="138" width="5" height="9" fill="#000"/>
<rect x="407" y="138" width="1" height="19" fill="#000"/>
<rect x="405" y="146" width="5" height="7" fill="#000"/>
<rect x="415" y="135" width="1" height="19" fill="#000"/>
<rect x="413.5" y="140.5" width="4" height="12" fill="#fff" stroke="#000" stroke-width="1"/>
<rect x="423" y="140" width="1" height="58" fill="#000"/>
<rect x="421" y="141" width="5" height="49" fill="#000"/>
<rect x="431" y="177" width="1" height="80" fill="#000"/>
<rect x="429" y="190" width="5" height="32" fill="#000"/>
<rect x="439" y="194" width="1" height="28" fill="#000"/>
<rect x="437.5" y="197.5" width="4" height="24" fill="#fff" stroke="#000" stroke-width="1"/>
<rect x="447" y="189" width="1" height="29" fill="#000"/>
<rect x="445" y="195" width="5" height="1" fill="#000"/>
<rect x="455" y="193" width="1" height="37" fill="#000"/>
<rect x="453" y="195" width="5" height="34" fill="#000"/>
<rect x="463" y="221" width="1" height="27" fill="#000"/>
<rect x="461" y="228" width="5" height="3" fill="#000"/>
<rect x="471" y="168" width="1" height="74" fill="#000"/>
<rect x="469.5" y="179.5" width="4" height="51" fill="#fff" stroke="#000" stroke-width="1"/>
<rect x="479" y="156" width="1" height="31" fill="#000"/>
<rect x="477.5" y="172.5" width="4" height="5" fill="#fff" stroke="#000" stroke-width="1"/>
<rect x="487" y="164" width="1" height="14" fill="#000"/>
<rect x="485.5" y="170.5" width="4" height="2" fill="#fff" stroke="#000" stroke-width="1"/>
<rect x="495" y="167" width="1" height="13" fill="#000"/>
<rect x="493" y="171" width="5" height="6" fill="#000"/>
<rect x="503" y="162" width="1" height="27" fill="#000"/>
<rect x="501.5" y="164.5" width="4" height="12" fill="#fff" stroke="#000" stroke-width="1"/>
<rect x="511" y="145" width="1" height="27" fill="#000"/>
<rect x="509.5" y="149.5" width="4" height="15" fill="#fff" stroke="#000" stroke-width="1"/>
<rect x="519" y="146" width="1" height="81" fill="#000"/>
<rect x="517" y="149" width="5" height="66" fill="#000"/>
<rect x="527" y="169" width="1" height="52" fill="#000"/>
<rect x="525.5" y="197.5" width="4" height="17" fill="#fff" stroke="#000" stroke-width="1"/>
<rect x="535" y="185" width="1" height="14" fill="#000"/>
<rect x="533" y="197" width="5" height="2" fill="#000"/>
<rect x="543" y="196" width="1" height="22" fill="#000"/>
<rect x="541" y="200" width="5" height="6" fill="#000"/>
<rect x="551" y="179" width="1" height="30" fill="#000"/>
<rect x="549.5" y="186.5" width="4" height="19" fill="#fff" stroke="#000" stroke-width="1"/>
<rect x="559" y="160" width="1" height="29" fill="#000"/>
<rect x="557.5" y="172.5" width="4" height="14" fill="#fff" stroke="#000" stroke-width="1"/>
<rect x="567" y="161" width="1" height="63" fill="#000"/>
<rect x="565" y="172" width="5" height="14" fill="#000"/>
<rect x="575" y="185" width="1" height="72" fill="#000"/>
<rect x="573" y="187" width="5" height="37" fill="#000"/>
<rect x="583" y="217" width="1" height="9" fill="#000"/>
<rect x="581" y="222" width="5" height="1" fill="#000"/>
<rect x="591" y="201" width="1" height="9" fill="#000"/>
<rect x="589.5" y="202.5" width="4" height="6" fill="#fff" stroke="#000" stroke-width="1"/>
<rect x="599" y="184" width="1" height="24" fill="#000"/>
<rect x="597.5" y="188.5" width="4" height="13" fill="#fff" stroke="#000" stroke-width="1"/>
<rect x="607" y="187" width="1" height="15" fill="#000"/>
<rect x="605" y="188" width="5" height="8" fill="#000"/>
<rect x="615" y="184" width="1" height="25" fill="#000"/>
<rect x="613" y="195" width="5" height="9" fill="#000"/>
<rect x="623" y="173" width="1" height="46" fill="#000"/>
<rect x="621.5" y="178.5" width="4" height="25" fill="#fff" stroke="#000" stroke-width="1"/>
<rect x="631" y="167" width="1" height="28" fill="#000"/>
<rect x="629" y="179" width="5" height="12" fill="#000"/>
<rect x="639" y="165" width="1" height="29" fill="#000"/>
<rect x="637.5" y="176.5" width="4" height="16" fill="#fff" stroke="#000" stroke-width="1"/>
<rect x="647" y="152" width="1" height="28" fill="#000"/>
<rect x="645.5" y="157.5" width="4" height="18" fill="#fff" stroke="#000" stroke-width="1"/>
<rect x="655" y="145" width="1" height="16" fill="#000"/>
<rect x="653" y="158" width="5" height="2" fill="#000"/>
<rect x="663" y="150" width="1" height="28" fill="#000"/>
<rect x="661" y="159" width="5" height="14" fill="#000"/>
<rect x="671" y="153" width="1" height="113" fill="#000"/>
<rect x="669" y="172" width="5" height="90" fill="#000"/>
<rect x="679" y="262" width="1" height="47" fill="#000"/>
<rect x="677" y="262" width="5" height="46" fill="#000"/>
<rect x="687" y="288" width="1" height="23" fill="#000"/>
<rect x="685.5" y="288.5" width="4" height="18" fill="#fff" stroke="#000" stroke-width="1"/>
<rect x="695" y="279" width="1" height="22" fill="#000"/>
<rect x="693" y="287" width="5" height="3" fill="#000"/>
<rect x="703" y="286" width="1" height="55" fill="#000"/>
<rect x="701" y="288" width="5" height="47" fill="#000"/>
<rect x="711" y="329" width="1" height="40" fill="#000"/>
<rect x="709" y="334" width="5" height="12" fill="#000"/>
<rect x="719" y="338" width="1" height="139" fill="#000"/>
<rect x="717" y="346" width="5" height="115" fill="#000"/>
<rect x="727" y="436" width="1" height="61" fill="#000"/>
<rect x="725" y="459" width="5" height="2" fill="#000"/>
<rect x="735" y="448" width="1" height="37" fill="#000"/>
<rect x="733" y="459" width="5" height="5" fill="#000"/>
<rect x="743" y="449" width="1" height="27" fill="#000"/>
<rect x="741.5" y="458.5" width="4" height="6" fill="#fff" stroke="#000" stroke-width="1"/>
<rect x="751" y="441" width="1" height="38" fill="#000"/>
<rect x="749.5" y="450.5" width="4" height="8" fill="#fff" stroke="#000" stroke-width="1"/>
<rect x="759" y="443" width="1" height="47" fill="#000"/>
<rect x="757" y="451" width="5" height="33" fill="#000"/>
<rect x="767" y="444" width="1" height="125" fill="#000"/>
<rect x="765.5" y="478.5" width="4" height="5" fill="#fff" stroke="#000" stroke-width="1"/>
<rect x="775" y="422" width="1" height="57" fill="#000"/>
<rect x="773.5" y="422.5" width="4" height="56" fill="#fff" stroke="#000" stroke-width="1"/>
<rect x="783" y="416" width="1" height="16" fill="#000"/>
<rect x="781" y="422" width="5" height="9" fill="#000"/>
<rect x="791" y="422" width="1" height="13" fill="#000"/>
<rect x="789.5" y="425.5" width="4" height="5" fill="#fff" stroke="#000" stroke-width="1"/>
<rect x="799" y="397" width="1" height="43" fill="#000"/>
<rect x="797" y="425" width="5" height="4" fill="#000"/>
<rect x="807" y="422" width="1" height="34" fill="#000"/>
<rect x="805" y="427" width="5" height="13" fill="#000"/>
<rect x="815" y="346" width="1" height="100" fill="#000"/>
<rect x="813.5" y="353.5" width="4" height="85" fill="#fff" stroke="#000" stroke-width="1"/>
<rect x="823" y="300" width="1" height="58" fill="#000"/>
<rect x="821.5" y="308.5" width="4" height="46" fill="#fff" stroke="#000" stroke-width="1"/>
<rect x="831" y="304" width="1" height="9" fill="#000"/>
<rect x="829" y="309" width="5" height="3" fill="#000"/>
<rect x="839" y="327" width="1" height="13" fill="#000"/>
<rect x="837" y="334" width="5" height="5" fill="#000"/>
<rect x="847" y="332" width="1" height="19" fill="#000"/>
<rect x="845" y="338" width="5" height="4" fill="#000"/>
<rect x="855" y="330" width="1" height="24" fill="#000"/>
<rect x="853" y="342" width="5" height="4" fill="#000"/>
<rect x="863" y="319" width="1" height="35" fill="#000"/>
<rect x="861.5" y="326.5" width="4" height="18" fill="#fff" stroke="#000" stroke-width="1"/>
<rect x="871" y="296" width="1" height="59" fill="#000"/>
<rect x="869.5" y="298.5" width="4" height="29" fill="#fff" stroke="#000" stroke-width="1"/>
<rect x="879" y="279" width="1" height="59" fill="#000"/>
<rect x="877" y="299" width="5" height="38" fill="#000"/>
<rect x="887" y="333" width="1" height="13" fill="#000"/>
<rect x="885" y="336" width="5" height="3" fill="#000"/>
<rect x="895" y="303" width="1" height="37" fill="#000"/>
<rect x="893.5" y="312.5" width="4" height="25" fill="#fff" stroke="#000" stroke-width="1"/>
<rect x="903" y="300" width="1" height="50" fill="#000"/>
<rect x="901" y="312" width="5" height="36" fill="#000"/>
<rect x="911" y="334" width="1" height="79" fill="#000"/>
<rect x="909" y="347" width="5" height="47" fill="#000"/>
<rect x="919" y="386" width="1" height="59" fill="#000"/>
<rect x="917" y="393" width="5" height="35" fill="#000"/>
<rect x="927" y="353" width="1" height="86" fill="#000"/>
<rect x="925" y="427" width="5" height="11" fill="#000"/>
<rect x="935" y="421" width="1" height="27" fill="#000"/>
<rect x="933" y="435" width="5" height="1" fill="#000"/>
<rect x="943" y="406" width="1" height="29" fill="#000"/>
<rect x="941.5" y="412.5" width="4" height="21" fill="#fff" stroke="#000" stroke-width="1"/>
<rect x="951" y="396" width="1" height="43" fill="#000"/>
<rect x="949" y="412" width="5" height="3" fill="#000"/>
<rect x="959" y="347" width="1" height="72" fill="#000"/>
<rect x="957.5" y="362.5" width="4" height="53" fill="#fff" stroke="#000" stroke-width="1"/>
<rect x="967" y="362" width="1" height="47" fill="#000"/>
<rect x="965" y="363" width="5" height="21" fill="#000"/>
<rect x="975" y="354" width="1" height="32" fill="#000"/>
<rect x="973.5" y="378.5" width="4" height="4" fill="#fff" stroke="#000" stroke-width="1"/>
<rect x="983" y="364" width="1" height="116" fill="#000"/>
<rect x="981" y="379" width="5" height="57" fill="#000"/>
<rect x="991" y="373" width="1" height="87" fill="#000"/>
<rect x="989.5" y="393.5" width="4" height="37" fill="#fff" stroke="#000" stroke-width="1"/>
<rect x="999" y="379" width="1" height="38" fill="#000"/>
<rect x="997" y="393" width="5" height="14" fill="#000"/>
<rect x="1007" y="371" width="1" height="40" fill="#000"/>
<rect x="1005.5" y="399.5" width="4" height="7" fill="#fff" stroke="#000" stroke-width="1"/>
<rect x="1015" y="297" width="1" height="104" fill="#000"/>
<rect x="1013.5" y="308.5" width="4" height="91" fill="#fff" stroke="#000" stroke-width="1"/>
<rect x="1023" y="304" width="1" height="61" fill="#000"/>
<rect x="1021" y="308" width="5" height="24" fill="#000"/>
<rect x="1031" y="278" width="1" height="54" fill="#000"/>
<rect x="1029.5" y="303.5" width="4" height="28" fill="#fff" stroke="#000" stroke-width="1"/>
<rect x="1039" y="290" width="1" height="28" fill="#000"/>
<rect x="1037.5" y="294.5" width="4" height="9" fill="#fff" stroke="#000" stroke-width="1"/>
<rect x="1047" y="280" width="1" height="21" fill="#000"/>
<rect x="1045.5" y="286.5" width="4" height="8" fill="#fff" stroke="#000" stroke-width="1"/>
<rect x="1055" y="228" width="1" height="60" fill="#000"/>
<rect x="1053.5" y="238.5" width="4" height="47" fill="#fff" stroke="#000" stroke-width="1"/>
<rect x="1063" y="171" width="1" height="75" fill="#000"/>
<rect x="1061.5" y="195.5" width="4" height="42" fill="#fff" stroke="#000" stroke-width="1"/>
<rect x="1071" y="166" width="1" height="80" fill="#000"/>
<rect x="1069" y="194" width="5" height="37" fill="#000"/>
<rect x="1079" y="220" width="1" height="25" fill="#000"/>
<rect x="1077.5" y="228.5" width="4" height="2" fill="#fff" stroke="#000" stroke-width="1"/>
<rect x="1087" y="192" width="1" height="11" fill="#000"/>
<rect x="1085.5" y="192.5" width="4" height="9" fill="#fff" stroke="#000" stroke-width="1"/>
<rect x="1095" y="191" width="1" height="39" fill="#000"/>
<rect x="1093" y="191" width="5" height="15" fill="#000"/>
<rect x="1103" y="200" width="1" height="40" fill="#000"/>
<rect x="1101" y="205" width="5" height="33" fill="#000"/>
<rect x="1111" y="224" width="1" height="49" fill="#000"/>
<rect x="1109" y="239" width="5" height="7" fill="#000"/>
<rect x="1119" y="210" width="1" height="47" fill="#000"/>
<rect x="1117.5" y="220.5" width="4" height="23" fill="#fff" stroke="#000" stroke-width="1"/>
<rect x="1127" y="217" width="1" height="25" fill="#000"/>
<rect x="1125" y="220" width="5" height="19" fill="#000"/>
<rect x="1135" y="217" width="1" height="27" fill="#000"/>
<rect x="1133.5" y="219.5" width="4" height="19" fill="#fff" stroke="#000" stroke-width="1"/>
<rect x="1143" y="217" width="1" height="17" fill="#000"/>
<rect x="1141" y="220" width="5" height="3" fill="#000"/>
<rect x="1151" y="192" width="1" height="32" fill="#000"/>
<rect x="1149.5" y="203.5" width="4" height="19" fill="#fff" stroke="#000" stroke-width="1"/>
<rect x="1159" y="196" width="1" height="24" fill="#000"/>
<rect x="1157" y="202" width="5" height="11" fill="#000"/>
<rect x="1167" y="133" width="1" height="87" fill="#000"/>
<rect x="1165.5" y="155.5" width="4" height="57" fill="#fff" stroke="#000" stroke-width="1"/>
<rect x="1175" y="139" width="1" height="26" fill="#000"/>
<rect x="1173" y="154" width="5" height="9" fill="#000"/>
<rect x="1183" y="154" width="1" height="16" fill="#000"/>
<rect x="1181" y="163" width="5" height="3" fill="#000"/>
<rect x="1191" y="158" width="1" height="27" fill="#000"/>
<rect x="1189" y="164" width="5" height="18" fill="#000"/>
<rect x="1199" y="160" width="1" height="26" fill="#000"/>
<rect x="1197.5" y="175.5" width="4" height="6" fill="#fff" stroke="#000" stroke-width="1"/>
<rect x="1207" y="167" width="1" height="26" fill="#000"/>
<rect x="1205.5" y="171.5" width="4" height="4" fill="#fff" stroke="#000" stroke-width="1"/>
<rect x="1215" y="152" width="1" height="38" fill="#000"/>
<rect x="1213.5" y="160.5" width="4" height="13" fill="#fff" stroke="#000" stroke-width="1"/>
<rect x="1223" y="155" width="1" height="21" fill="#000"/>
<rect x="1221" y="159" width="5" height="11" fill="#000"/>
<rect x="1231" y="163" width="1" height="30" fill="#000"/>
<rect x="1229" y="167" width="5" height="23" fill="#000"/>
<rect x="1239" y="174" width="1" height="24" fill="#000"/>
<rect x="1237.5" y="182.5" width="4" height="10" fill="#fff" stroke="#000" stroke-width="1"/>
<rect x="1247" y="173" width="1" height="24" fill="#000"/>
<rect x="1245.5" y="177.5" width="4" height="6" fill="#fff" stroke="#000" stroke-width="1"/>
<rect x="1255" y="130" width="1" height="51" fill="#000"/>
<rect x="1253.5" y="152.5" width="4" height="25" fill="#fff" stroke="#000" stroke-width="1"/>
<rect x="1263" y="134" width="1" height="47" fill="#000"/>
<rect x="1261" y="152" width="5" height="18" fill="#000"/>
<rect x="1271" y="147" width="1" height="34" fill="#000"/>
<rect x="1269.5" y="160.5" width="4" height="8" fill="#fff" stroke="#000" stroke-width="1"/>
<rect x="1279" y="155" width="1" height="12" fill="#000"/>
<rect x="1277" y="160" width="5" height="3" fill="#000"/>
<rect x="1287" y="154" width="1" height="19" fill="#000"/>
<rect x="1285" y="162" width="5" height="6" fill="#000"/>
<rect x="1295" y="166" width="1" height="20" fill="#000"/>
<rect x="1293" y="168" width="5" height="2" fill="#000"/>
<rect x="1303" y="150" width="1" height="25" fill="#000"/>
<rect x="1301.5" y="152.5" width="4" height="16" fill="#fff" stroke="#000" stroke-width="1"/>
<rect x="1311" y="151" width="1" height="51" fill="#000"/>
<rect x="1309" y="153" width="5" height="49" fill="#000"/>
<rect x="1319" y="195" width="1" height="47" fill="#000"/>
<rect x="1317" y="200" width="5" height="42" fill="#000"/>
<rect x="1327" y="232" width="1" height="13" fill="#000"/>
<rect x="1325.5" y="236.5" width="4" height="6" fill="#fff" stroke="#000" stroke-width="1"/>
</g>
<path d="M1327.5,29 L1338,29 L1332.7,34.5 Z" fill="#a0a0a0"/>
<rect x="1242" y="208" width="103" height="12" fill="#00ff00" shape-rendering="crispEdges"/>
<rect x="1480" y="213.5" width="8" height="1" fill="#ff0000" shape-rendering="crispEdges"/>
<rect x="1486.5" y="211.5" width="3" height="4" fill="#fff" stroke="#ff0000" stroke-width="1" shape-rendering="crispEdges"/>
<rect x="1490.5" y="198.5" width="99" height="32" fill="#fff" stroke="#ff0000" stroke-width="1" shape-rendering="crispEdges"/>
<text x="1492.5" y="224.8" font-size="27.5" fill="#ff0000" textLength="95.5" lengthAdjust="spacingAndGlyphs">26817.5</text>
<text x="1407.5" y="325.2" font-size="31.6" font-weight="600" fill="#00ff00" letter-spacing="1" style="font-family:'Liberation Serif','Noto Serif CJK SC',serif;text-shadow:1px 1px 0 #0a3a0a">多空转折点</text>
</g>
<g font-size="10" fill="#fff">
<rect x="1629" y="114" width="41" height="11" fill="#ff0000" shape-rendering="crispEdges"/>
<text x="1633" y="123.3" textLength="33" lengthAdjust="spacingAndGlyphs">27116.1</text>
<rect x="1629" y="160" width="41" height="11" fill="#ff0000" shape-rendering="crispEdges"/>
<text x="1633" y="169.3" textLength="33" lengthAdjust="spacingAndGlyphs">26969.5</text>
<rect x="1629" y="208" width="41" height="11" fill="#32cd32" shape-rendering="crispEdges"/>
<text x="1633" y="217.3" textLength="33" lengthAdjust="spacingAndGlyphs">26817.5</text>
<rect x="1629" y="231" width="41" height="11" fill="#000000" shape-rendering="crispEdges"/>
<text x="1633" y="240.3" textLength="33" lengthAdjust="spacingAndGlyphs">26750.0</text>
<rect x="1629" y="270" width="41" height="11" fill="#0000ff" shape-rendering="crispEdges"/>
<text x="1633" y="279.3" textLength="33" lengthAdjust="spacingAndGlyphs">26622.2</text>
<rect x="1629" y="327" width="41" height="11" fill="#0000ff" shape-rendering="crispEdges"/>
<text x="1633" y="336.3" textLength="33" lengthAdjust="spacingAndGlyphs">26443.1</text>
</g>
<g>
<rect x="0" y="46.5" width="222.5" height="67.5" fill="#fff"/>
<rect x="2" y="48" width="52" height="25" fill="url(#gtab)"/>
<rect x="169" y="48" width="52" height="25" fill="url(#gtab)"/>
<rect x="2" y="72" width="109" height="40" fill="url(#gbig)"/>
<rect x="113" y="72" width="108" height="40" fill="url(#gbig)"/>
<rect x="6" y="71.4" width="44" height="1.2" fill="#a41010"/>
<rect x="173" y="71.4" width="44" height="1.2" fill="#a41010"/>
<rect x="56.5" y="48.5" width="110" height="21" fill="#fff" stroke="#ababab" stroke-width="1"/>
<rect x="57" y="49" width="20" height="20" fill="url(#gbtn)"/>
<rect x="146" y="49" width="20" height="20" fill="url(#gbtn)"/>
<rect x="77" y="49" width="1" height="20" fill="#b4b4b4"/>
<rect x="145" y="49" width="1" height="20" fill="#b4b4b4"/>
<path d="M63.5,57.5 L69.5,57.5 L66.5,60.8 Z" fill="#000"/>
<path d="M152.5,60.8 L158.5,60.8 L155.5,57.5 Z" fill="#000"/>
<text x="141.5" y="62.8" font-size="12" fill="#222" text-anchor="end">1.00</text>
<text x="27.5" y="63.8" font-size="12" fill="#fff" text-anchor="middle" textLength="26" lengthAdjust="spacingAndGlyphs">SELL</text>
<text x="194" y="63.8" font-size="12" fill="#fff" text-anchor="middle" textLength="23" lengthAdjust="spacingAndGlyphs">BUY</text>
<text x="18" y="102.7" font-size="12.3" font-weight="bold" fill="#fff" textLength="35" lengthAdjust="spacingAndGlyphs">26748</text>
<text x="56" y="103.4" font-size="33.5" fill="#fff" textLength="24" lengthAdjust="spacingAndGlyphs">.5</text>
<text x="128" y="102.7" font-size="12.3" font-weight="bold" fill="#fff" textLength="35" lengthAdjust="spacingAndGlyphs">26757</text>
<text x="167" y="103.4" font-size="33.5" fill="#fff" textLength="24" lengthAdjust="spacingAndGlyphs">.5</text>
</g>
<path d="M2.5,40 L9.5,40 L6,35.5 Z" fill="#000"/>
<text x="14.5" y="40.4" font-size="10" fill="#000" xml:space="preserve" textLength="185" lengthAdjust="spacingAndGlyphs">DJ30-,H4  26731.0 26762.0 26724.0 26750.0</text>
<g clip-path="url(#c2)">
<g shape-rendering="crispEdges" fill="#c0c0c0">
<rect x="7" y="591" width="1" height="67"/>
<rect x="15" y="592" width="1" height="66"/>
<rect x="23" y="594" width="1" height="64"/>
<rect x="31" y="596" width="1" height="62"/>
<rect x="39" y="597" width="1" height="61"/>
<rect x="47" y="599" width="1" height="59"/>
<rect x="55" y="599" width="1" height="59"/>
<rect x="63" y="599" width="1" height="59"/>
<rect x="71" y="602" width="1" height="56"/>
<rect x="79" y="605" width="1" height="53"/>
<rect x="87" y="609" width="1" height="49"/>
<rect x="95" y="617" width="1" height="41"/>
<rect x="103" y="623" width="1" height="35"/>
<rect x="111" y="627" width="1" height="31"/>
<rect x="119" y="631" width="1" height="27"/>
<rect x="127" y="637" width="1" height="21"/>
<rect x="135" y="640" width="1" height="18"/>
<rect x="143" y="642" width="1" height="16"/>
<rect x="151" y="645" width="1" height="13"/>
<rect x="159" y="648" width="1" height="10"/>
<rect x="167" y="651" width="1" height="7"/>
<rect x="175" y="653" width="1" height="5"/>
<rect x="183" y="653" width="1" height="5"/>
<rect x="191" y="653" width="1" height="5"/>
<rect x="199" y="654" width="1" height="4"/>
<rect x="207" y="655" width="1" height="3"/>
<rect x="215" y="656" width="1" height="2"/>
<rect x="231" y="655" width="1" height="3"/>
<rect x="239" y="654" width="1" height="4"/>
<rect x="247" y="654" width="1" height="4"/>
<rect x="255" y="656" width="1" height="2"/>
<rect x="263" y="655" width="1" height="3"/>
<rect x="271" y="651" width="1" height="7"/>
<rect x="279" y="653" width="1" height="5"/>
<rect x="287" y="654" width="1" height="4"/>
<rect x="295" y="653" width="1" height="5"/>
<rect x="303" y="654" width="1" height="4"/>
<rect x="311" y="654" width="1" height="4"/>
<rect x="319" y="655" width="1" height="3"/>
<rect x="327" y="657" width="1" height="2"/>
<rect x="335" y="657" width="1" height="8"/>
<rect x="343" y="657" width="1" height="8"/>
<rect x="351" y="657" width="1" height="10"/>
<rect x="359" y="657" width="1" height="15"/>
<rect x="367" y="657" width="1" height="19"/>
<rect x="375" y="657" width="1" height="19"/>
<rect x="383" y="657" width="1" height="20"/>
<rect x="391" y="657" width="1" height="14"/>
<rect x="399" y="657" width="1" height="12"/>
<rect x="407" y="657" width="1" height="10"/>
<rect x="415" y="657" width="1" height="8"/>
<rect x="423" y="657" width="1" height="12"/>
<rect x="431" y="657" width="1" height="16"/>
<rect x="439" y="657" width="1" height="19"/>
<rect x="447" y="657" width="1" height="20"/>
<rect x="455" y="657" width="1" height="23"/>
<rect x="463" y="657" width="1" height="26"/>
<rect x="471" y="657" width="1" height="23"/>
<rect x="479" y="657" width="1" height="20"/>
<rect x="487" y="657" width="1" height="16"/>
<rect x="495" y="657" width="1" height="13"/>
<rect x="503" y="657" width="1" height="10"/>
<rect x="511" y="657" width="1" height="7"/>
<rect x="519" y="657" width="1" height="10"/>
<rect x="527" y="657" width="1" height="10"/>
<rect x="535" y="657" width="1" height="12"/>
<rect x="543" y="657" width="1" height="12"/>
<rect x="551" y="657" width="1" height="12"/>
<rect x="559" y="657" width="1" height="8"/>
<rect x="567" y="657" width="1" height="8"/>
<rect x="575" y="657" width="1" height="12"/>
<rect x="583" y="657" width="1" height="14"/>
<rect x="591" y="657" width="1" height="14"/>
<rect x="599" y="657" width="1" height="12"/>
<rect x="607" y="657" width="1" height="11"/>
<rect x="615" y="657" width="1" height="10"/>
<rect x="623" y="657" width="1" height="8"/>
<rect x="631" y="657" width="1" height="7"/>
<rect x="639" y="657" width="1" height="5"/>
<rect x="663" y="655" width="1" height="3"/>
<rect x="671" y="657" width="1" height="5"/>
<rect x="679" y="657" width="1" height="16"/>
<rect x="687" y="657" width="1" height="24"/>
<rect x="695" y="657" width="1" height="29"/>
<rect x="703" y="657" width="1" height="38"/>
<rect x="711" y="657" width="1" height="45"/>
<rect x="719" y="657" width="1" height="63"/>
<rect x="727" y="657" width="1" height="75"/>
<rect x="735" y="657" width="1" height="85"/>
<rect x="743" y="657" width="1" height="91"/>
<rect x="751" y="657" width="1" height="94"/>
<rect x="759" y="657" width="1" height="98"/>
<rect x="767" y="657" width="1" height="100"/>
<rect x="775" y="657" width="1" height="95"/>
<rect x="783" y="657" width="1" height="90"/>
<rect x="791" y="657" width="1" height="85"/>
<rect x="799" y="657" width="1" height="81"/>
<rect x="807" y="657" width="1" height="77"/>
<rect x="815" y="657" width="1" height="65"/>
<rect x="823" y="657" width="1" height="49"/>
<rect x="831" y="657" width="1" height="37"/>
<rect x="839" y="657" width="1" height="30"/>
<rect x="847" y="657" width="1" height="24"/>
<rect x="855" y="657" width="1" height="20"/>
<rect x="863" y="657" width="1" height="14"/>
<rect x="871" y="657" width="1" height="7"/>
<rect x="879" y="657" width="1" height="5"/>
<rect x="887" y="657" width="1" height="4"/>
<rect x="911" y="657" width="1" height="5"/>
<rect x="919" y="657" width="1" height="12"/>
<rect x="927" y="657" width="1" height="20"/>
<rect x="935" y="657" width="1" height="25"/>
<rect x="943" y="657" width="1" height="26"/>
<rect x="951" y="657" width="1" height="27"/>
<rect x="959" y="657" width="1" height="22"/>
<rect x="967" y="657" width="1" height="19"/>
<rect x="975" y="657" width="1" height="18"/>
<rect x="983" y="657" width="1" height="22"/>
<rect x="991" y="657" width="1" height="20"/>
<rect x="999" y="657" width="1" height="20"/>
<rect x="1007" y="657" width="1" height="19"/>
<rect x="1015" y="657" width="1" height="8"/>
<rect x="1023" y="657" width="1" height="3"/>
<rect x="1031" y="653" width="1" height="5"/>
<rect x="1039" y="646" width="1" height="12"/>
<rect x="1047" y="640" width="1" height="18"/>
<rect x="1055" y="630" width="1" height="28"/>
<rect x="1063" y="618" width="1" height="40"/>
<rect x="1071" y="613" width="1" height="45"/>
<rect x="1079" y="610" width="1" height="48"/>
<rect x="1087" y="604" width="1" height="54"/>
<rect x="1095" y="601" width="1" height="57"/>
<rect x="1103" y="603" width="1" height="55"/>
<rect x="1111" y="606" width="1" height="52"/>
<rect x="1119" y="606" width="1" height="52"/>
<rect x="1127" y="608" width="1" height="50"/>
<rect x="1135" y="609" width="1" height="49"/>
<rect x="1143" y="611" width="1" height="47"/>
<rect x="1151" y="610" width="1" height="48"/>
<rect x="1159" y="611" width="1" height="47"/>
<rect x="1167" y="607" width="1" height="51"/>
<rect x="1175" y="605" width="1" height="53"/>
<rect x="1183" y="604" width="1" height="54"/>
<rect x="1191" y="605" width="1" height="53"/>
<rect x="1199" y="607" width="1" height="51"/>
<rect x="1207" y="608" width="1" height="50"/>
<rect x="1215" y="608" width="1" height="50"/>
<rect x="1223" y="610" width="1" height="48"/>
<rect x="1231" y="614" width="1" height="44"/>
<rect x="1239" y="617" width="1" height="41"/>
<rect x="1247" y="619" width="1" height="39"/>
<rect x="1255" y="619" width="1" height="39"/>
<rect x="1263" y="621" width="1" height="37"/>
<rect x="1271" y="622" width="1" height="36"/>
<rect x="1279" y="623" width="1" height="35"/>
<rect x="1287" y="625" width="1" height="33"/>
<rect x="1295" y="627" width="1" height="31"/>
<rect x="1303" y="627" width="1" height="31"/>
<rect x="1311" y="633" width="1" height="25"/>
<rect x="1319" y="642" width="1" height="16"/>
<rect x="1327" y="649" width="1" height="9"/>
</g>
<path fill="#ff0000" shape-rendering="crispEdges" d="M0 612h2v1h-2zM2 611h1v1h-1zM6 610h3v1h-3zM12 609h1v1h-1zM13 608h2v1h-2zM18 607h2v1h-2zM20 606h1v1h-1zM24 604h3v1h-3zM30 602h3v1h-3zM36 601h2v1h-2zM38 600h1v1h-1zM42 600h1v1h-1zM43 599h2v1h-2zM48 598h3v1h-3zM54 597h3v1h-3zM60 596h3v1h-3zM66 596h3v1h-3zM72 596h1v1h-1zM73 597h2v1h-2zM78 597h3v1h-3zM84 598h2v1h-2zM86 599h1v1h-1zM90 600h3v1h-3zM96 602h2v1h-2zM98 603h1v1h-1zM102 604h1v1h-1zM103 605h2v1h-2zM108 607h2v1h-2zM110 608h1v1h-1zM114 609h1v1h-1zM115 610h2v1h-2zM120 612h1v1h-1zM121 613h2v1h-2zM126 615h1v1h-1zM127 616h2v1h-2zM132 618h1v1h-1zM133 619h2v1h-2zM138 622h2v1h-2zM140 623h1v1h-1zM144 625h1v1h-1zM145 626h2v1h-2zM150 628h1v1h-1zM151 629h2v1h-2zM156 631h1v1h-1zM157 632h2v1h-2zM162 634h1v1h-1zM163 635h2v1h-2zM168 637h2v1h-2zM170 638h1v1h-1zM174 640h3v1h-3zM180 642h2v1h-2zM182 643h1v1h-1zM186 644h2v1h-2zM188 645h1v1h-1zM192 646h2v1h-2zM194 647h1v1h-1zM198 648h3v1h-3zM204 649h3v1h-3zM210 650h3v1h-3zM216 651h3v1h-3zM222 652h3v1h-3zM228 653h3v1h-3zM234 653h3v1h-3zM240 654h3v1h-3zM246 654h3v1h-3zM252 654h3v1h-3zM258 654h3v1h-3zM264 654h3v1h-3zM270 654h3v1h-3zM276 654h3v1h-3zM282 654h3v1h-3zM288 654h3v1h-3zM294 654h3v1h-3zM300 653h3v1h-3zM306 653h3v1h-3zM312 653h3v1h-3zM318 653h3v1h-3zM324 653h3v1h-3zM330 653h3v1h-3zM336 654h3v1h-3zM342 656h3v1h-3zM348 657h1v1h-1zM349 658h2v1h-2zM354 659h3v1h-3zM360 661h3v1h-3zM366 663h3v1h-3zM372 664h2v1h-2zM374 665h1v1h-1zM378 666h3v1h-3zM384 667h1v1h-1zM385 668h2v1h-2zM390 669h1v1h-1zM391 670h2v1h-2zM396 671h3v1h-3zM402 671h1v1h-1zM403 672h2v1h-2zM408 672h3v1h-3zM414 672h3v1h-3zM420 672h3v1h-3zM426 672h3v1h-3zM432 672h3v1h-3zM438 672h3v1h-3zM444 672h3v1h-3zM450 672h3v1h-3zM456 672h3v1h-3zM462 673h1v1h-1zM463 674h2v1h-2zM468 675h3v1h-3zM474 675h1v1h-1zM475 676h2v1h-2zM480 676h3v1h-3zM486 676h3v1h-3zM492 677h3v1h-3zM498 677h2v1h-2zM500 676h1v1h-1zM504 676h3v1h-3zM510 675h3v1h-3zM516 674h3v1h-3zM522 673h3v1h-3zM528 672h3v1h-3zM534 671h3v1h-3zM540 671h2v1h-2zM542 670h1v1h-1zM546 670h3v1h-3zM552 669h3v1h-3zM558 669h1v1h-1zM559 668h2v1h-2zM564 668h3v1h-3zM570 668h3v1h-3zM576 668h3v1h-3zM582 668h3v1h-3zM588 669h3v1h-3zM594 669h3v1h-3zM600 669h3v1h-3zM606 669h3v1h-3zM612 669h3v1h-3zM618 669h2v1h-2zM620 668h1v1h-1zM624 668h3v1h-3zM630 668h3v1h-3zM636 667h3v1h-3zM642 667h2v1h-2zM644 666h1v1h-1zM648 665h3v1h-3zM654 664h1v1h-1zM655 663h2v1h-2zM660 663h2v1h-2zM662 662h1v1h-1zM666 662h3v1h-3zM672 662h3v1h-3zM678 663h3v1h-3zM684 663h3v1h-3zM690 664h1v1h-1zM691 665h2v1h-2zM696 666h1v1h-1zM697 667h2v1h-2zM702 669h1v1h-1zM703 670h2v1h-2zM708 672h1v1h-1zM709 673h1v1h-1zM710 674h1v1h-1zM714 677h1v1h-1zM715 678h1v1h-1zM716 679h1v1h-1zM720 682h1v1h-1zM721 683h1v1h-1zM722 684h1v1h-1zM725 688h1v1h-1zM726 689h1v1h-1zM727 690h1v1h-1zM730 694h1v1h-1zM731 695h1v1h-1zM732 696h1v1h-1zM735 700h1v1h-1zM736 701h1v1h-1zM737 702h1v1h-1zM740 706h1v1h-1zM741 707h1v1h-1zM742 708h1v1h-1zM746 712h1v1h-1zM747 713h1v1h-1zM748 714h1v1h-1zM751 718h1v1h-1zM752 719h1v1h-1zM753 720h1v1h-1zM757 724h1v1h-1zM758 725h1v1h-1zM759 726h1v1h-1zM763 730h1v1h-1zM764 731h1v1h-1zM765 732h1v1h-1zM769 736h2v1h-2zM771 737h1v1h-1zM775 740h2v1h-2zM777 741h1v1h-1zM781 743h1v1h-1zM782 744h2v1h-2zM787 746h3v1h-3zM793 747h3v1h-3zM799 748h3v1h-3zM805 747h3v1h-3zM811 746h1v1h-1zM812 745h2v1h-2zM817 743h2v1h-2zM819 742h1v1h-1zM823 739h1v1h-1zM824 738h2v1h-2zM829 734h1v1h-1zM830 733h1v1h-1zM831 732h1v1h-1zM835 729h1v1h-1zM836 728h1v1h-1zM837 727h1v1h-1zM841 723h1v1h-1zM842 722h2v1h-2zM847 718h1v1h-1zM848 717h1v1h-1zM849 716h1v1h-1zM853 712h1v1h-1zM854 711h1v1h-1zM855 710h1v1h-1zM859 706h1v1h-1zM860 705h1v1h-1zM861 704h1v1h-1zM865 700h1v1h-1zM866 699h1v1h-1zM867 698h1v1h-1zM871 694h1v1h-1zM872 693h1v1h-1zM873 692h1v1h-1zM877 687h1v2h-1zM878 686h1v1h-1zM882 682h1v1h-1zM883 681h2v1h-2zM888 678h2v1h-2zM890 677h1v1h-1zM894 674h1v1h-1zM895 673h2v1h-2zM900 670h2v1h-2zM902 669h1v1h-1zM906 668h1v1h-1zM907 667h2v1h-2zM912 666h3v1h-3zM918 665h3v1h-3zM924 665h3v1h-3zM930 665h2v1h-2zM932 666h1v1h-1zM936 667h3v1h-3zM942 668h3v1h-3zM948 669h3v1h-3zM954 671h1v1h-1zM955 672h2v1h-2zM960 674h3v1h-3zM966 675h2v1h-2zM968 676h1v1h-1zM972 676h1v1h-1zM973 677h2v1h-2zM978 678h3v1h-3zM984 679h3v1h-3zM990 679h3v1h-3zM996 679h3v1h-3zM1002 679h3v1h-3zM1008 679h1v1h-1zM1009 678h2v1h-2zM1014 677h3v1h-3zM1020 675h2v1h-2zM1022 674h1v1h-1zM1026 673h1v1h-1zM1027 672h2v1h-2zM1032 670h1v1h-1zM1033 669h2v1h-2zM1038 667h1v1h-1zM1039 666h2v1h-2zM1044 664h1v1h-1zM1045 663h2v1h-2zM1050 661h1v1h-1zM1051 660h2v1h-2zM1056 658h1v1h-1zM1057 657h1v1h-1zM1058 656h1v1h-1zM1062 653h1v1h-1zM1063 652h1v1h-1zM1064 651h1v1h-1zM1068 648h1v1h-1zM1069 647h1v1h-1zM1070 646h1v1h-1zM1074 642h1v1h-1zM1075 641h1v1h-1zM1076 640h1v1h-1zM1080 636h1v1h-1zM1081 635h1v1h-1zM1082 634h1v1h-1zM1086 631h1v1h-1zM1087 630h1v1h-1zM1088 629h1v1h-1zM1092 626h2v1h-2zM1094 625h1v1h-1zM1098 621h1v1h-1zM1099 620h2v1h-2zM1104 616h2v1h-2zM1106 615h1v1h-1zM1110 614h1v1h-1zM1111 613h2v1h-2zM1116 611h1v1h-1zM1117 610h2v1h-2zM1122 608h3v1h-3zM1128 607h3v1h-3zM1134 606h3v1h-3zM1140 605h3v1h-3zM1146 605h3v1h-3zM1152 605h3v1h-3zM1158 606h3v1h-3zM1164 607h3v1h-3zM1170 607h3v1h-3zM1176 607h3v1h-3zM1182 607h3v1h-3zM1188 607h3v1h-3zM1194 607h3v1h-3zM1200 606h3v1h-3zM1206 606h3v1h-3zM1212 606h3v1h-3zM1218 606h3v1h-3zM1224 606h3v1h-3zM1230 606h3v1h-3zM1236 607h3v1h-3zM1242 608h2v1h-2zM1244 609h1v1h-1zM1248 610h3v1h-3zM1254 611h3v1h-3zM1260 612h2v1h-2zM1262 613h1v1h-1zM1266 613h2v1h-2zM1268 614h1v1h-1zM1272 614h1v1h-1zM1273 615h2v1h-2zM1278 616h3v1h-3zM1284 617h1v1h-1zM1285 618h2v1h-2zM1290 619h3v1h-3zM1296 620h3v1h-3zM1302 621h3v1h-3zM1308 622h2v1h-2zM1310 623h1v1h-1zM1314 624h2v1h-2zM1316 625h1v1h-1zM1320 626h2v1h-2zM1322 627h1v1h-1zM1326 629h2v1h-2z"/>
</g>
<text x="3.5" y="596.3" font-size="10" fill="#000" textLength="117" lengthAdjust="spacingAndGlyphs">MACD(12,26,9) 22.46 67.21</text>
<g clip-path="url(#c3)">
<line x1="0" y1="801.5" x2="1627" y2="801.5" stroke="#c0c0c0" stroke-width="1" stroke-dasharray="3 3" shape-rendering="crispEdges"/>
<line x1="0" y1="848.5" x2="1627" y2="848.5" stroke="#c0c0c0" stroke-width="1" stroke-dasharray="3 3" shape-rendering="crispEdges"/>
<line x1="0" y1="904.5" x2="1627" y2="904.5" stroke="#c0c0c0" stroke-width="1" stroke-dasharray="3 3" shape-rendering="crispEdges"/>
<path fill="#1e90ff" shape-rendering="crispEdges" d="M-1 803h1v1h-1zM0 804h1v1h-1zM1 805h1v1h-1zM2 806h1v1h-1zM3 807h1v2h-1zM4 809h1v1h-1zM5 810h1v1h-1zM6 811h1v1h-1zM7 812h10v1h-10zM17 811h4v1h-4zM21 810h3v1h-3zM24 811h1v2h-1zM25 813h1v1h-1zM26 814h1v1h-1zM27 815h1v2h-1zM28 817h1v1h-1zM29 818h1v1h-1zM30 819h1v2h-1zM31 821h2v1h-2zM33 820h2v1h-2zM35 819h3v1h-3zM38 818h11v1h-11zM49 817h2v1h-2zM51 816h3v1h-3zM54 815h3v1h-3zM57 814h2v1h-2zM59 813h3v1h-3zM62 812h2v1h-2zM64 813h1v2h-1zM65 815h1v1h-1zM66 816h1v1h-1zM67 817h1v2h-1zM68 819h1v1h-1zM69 820h1v1h-1zM70 821h1v2h-1zM71 823h2v1h-2zM73 824h2v1h-2zM75 825h3v1h-3zM78 826h5v1h-5zM83 827h5v1h-5zM87 828h1v1h-1zM88 829h1v3h-1zM89 832h1v2h-1zM90 834h1v3h-1zM91 837h1v3h-1zM92 840h1v3h-1zM93 843h1v2h-1zM94 845h1v3h-1zM95 848h1v2h-1zM96 849h1v1h-1zM97 848h4v1h-4zM101 847h4v1h-4zM105 846h2v1h-2zM107 845h3v1h-3zM110 844h5v1h-5zM115 843h5v1h-5zM120 844h1v2h-1zM121 846h1v1h-1zM122 847h1v1h-1zM123 848h1v2h-1zM124 850h1v1h-1zM125 851h1v1h-1zM126 852h1v2h-1zM127 854h1v1h-1zM128 853h2v1h-2zM130 852h2v1h-2zM132 851h2v1h-2zM134 850h2v1h-2zM136 849h2v1h-2zM138 848h2v1h-2zM140 847h2v1h-2zM142 846h2v1h-2zM144 847h2v1h-2zM146 848h2v1h-2zM148 849h2v1h-2zM150 850h3v1h-3zM153 851h4v1h-4zM157 852h14v1h-14zM171 853h5v1h-5zM176 852h1v1h-1zM177 850h1v2h-1zM178 849h1v1h-1zM179 848h1v1h-1zM180 847h1v1h-1zM181 845h1v2h-1zM182 844h1v1h-1zM183 843h2v1h-2zM185 844h4v1h-4zM189 845h3v1h-3zM192 846h2v1h-2zM194 847h1v1h-1zM195 848h2v1h-2zM197 849h2v1h-2zM199 850h4v1h-4zM203 849h6v1h-6zM209 850h4v1h-4zM213 851h3v1h-3zM216 852h2v1h-2zM218 853h2v1h-2zM220 854h2v1h-2zM222 855h2v1h-2zM223 854h1v1h-1zM224 852h1v2h-1zM225 850h1v2h-1zM226 848h1v2h-1zM227 845h1v3h-1zM228 843h1v2h-1zM229 841h1v2h-1zM230 839h1v2h-1zM231 837h1v2h-1zM232 838h2v1h-2zM234 839h2v1h-2zM236 840h2v1h-2zM238 841h2v1h-2zM240 842h1v1h-1zM241 843h1v2h-1zM242 845h1v1h-1zM243 846h1v1h-1zM244 847h1v1h-1zM245 848h1v2h-1zM246 850h1v1h-1zM247 851h1v1h-1zM248 850h2v1h-2zM250 849h2v1h-2zM252 848h2v1h-2zM254 847h5v1h-5zM259 846h5v1h-5zM263 845h1v1h-1zM264 843h1v2h-1zM265 841h1v2h-1zM266 838h1v3h-1zM267 836h1v2h-1zM268 833h1v3h-1zM269 831h1v2h-1zM270 829h1v2h-1zM271 827h1v2h-1zM271 828h1v1h-1zM272 829h1v3h-1zM273 832h1v3h-1zM274 835h1v3h-1zM275 838h1v3h-1zM276 841h1v3h-1zM277 844h1v3h-1zM278 847h1v3h-1zM279 850h1v2h-1zM280 851h1v1h-1zM281 850h2v1h-2zM283 849h3v1h-3zM286 848h10v1h-10zM296 847h2v1h-2zM298 846h2v1h-2zM300 845h2v1h-2zM302 844h13v1h-13zM315 843h5v1h-5zM319 844h1v1h-1zM320 845h1v4h-1zM321 849h1v3h-1zM322 852h1v3h-1zM323 855h1v4h-1zM324 859h1v3h-1zM325 862h1v3h-1zM326 865h1v4h-1zM327 869h1v2h-1zM328 870h1v1h-1zM329 871h4v1h-4zM333 872h3v1h-3zM336 870h1v2h-1zM337 868h1v2h-1zM338 866h1v2h-1zM339 864h1v2h-1zM340 862h1v2h-1zM341 860h1v2h-1zM342 858h1v2h-1zM343 856h1v2h-1zM344 856h1v1h-1zM345 857h4v1h-4zM349 858h3v1h-3zM352 859h1v1h-1zM353 860h1v1h-1zM354 861h1v1h-1zM355 862h1v2h-1zM356 864h1v1h-1zM357 865h1v1h-1zM358 866h1v1h-1zM359 867h2v1h-2zM361 868h2v1h-2zM363 869h3v1h-3zM366 870h2v1h-2zM368 868h1v2h-1zM369 867h1v1h-1zM370 866h1v1h-1zM371 864h1v2h-1zM372 863h1v1h-1zM373 862h1v1h-1zM374 860h1v2h-1zM375 859h4v1h-4zM379 860h5v1h-5zM384 858h1v2h-1zM385 856h1v2h-1zM386 854h1v2h-1zM387 852h1v2h-1zM388 850h1v2h-1zM389 848h1v2h-1zM390 846h1v2h-1zM391 845h2v1h-2zM393 846h2v1h-2zM395 847h3v1h-3zM398 848h3v1h-3zM401 849h4v1h-4zM405 850h3v1h-3zM408 849h2v1h-2zM410 848h2v1h-2zM412 847h2v1h-2zM414 846h2v1h-2zM416 847h1v2h-1zM417 849h1v2h-1zM418 851h1v2h-1zM419 853h1v2h-1zM420 855h1v2h-1zM421 857h1v2h-1zM422 859h1v2h-1zM423 861h1v1h-1zM424 862h1v1h-1zM425 863h1v1h-1zM426 864h1v1h-1zM427 865h1v1h-1zM428 866h1v1h-1zM429 867h1v1h-1zM430 868h1v1h-1zM431 869h1v1h-1zM432 868h1v1h-1zM433 867h1v1h-1zM434 866h1v1h-1zM435 864h1v2h-1zM436 863h1v1h-1zM437 862h1v1h-1zM438 861h1v1h-1zM439 860h9v1h-9zM448 861h1v1h-1zM449 862h1v1h-1zM450 863h1v1h-1zM451 864h1v1h-1zM452 865h1v1h-1zM453 866h1v1h-1zM454 867h1v1h-1zM455 868h9v1h-9zM463 867h1v1h-1zM464 865h1v2h-1zM465 863h1v2h-1zM466 861h1v2h-1zM467 859h1v2h-1zM468 857h1v2h-1zM469 855h1v2h-1zM470 853h1v2h-1zM471 851h1v2h-1zM472 851h1v1h-1zM473 850h4v1h-4zM477 849h6v1h-6zM483 848h6v1h-6zM489 849h4v1h-4zM493 850h3v1h-3zM496 849h2v1h-2zM498 848h2v1h-2zM500 847h2v1h-2zM502 846h2v1h-2zM504 845h2v1h-2zM506 844h1v1h-1zM507 843h2v1h-2zM509 842h2v1h-2zM511 841h1v2h-1zM512 843h1v2h-1zM513 845h1v3h-1zM514 848h1v2h-1zM515 850h1v3h-1zM516 853h1v2h-1zM517 855h1v3h-1zM518 858h1v2h-1zM519 860h1v2h-1zM520 860h1v1h-1zM521 859h2v1h-2zM523 858h1v1h-1zM524 857h1v1h-1zM525 856h2v1h-2zM527 855h4v1h-4zM531 856h6v1h-6zM537 857h4v1h-4zM541 858h3v1h-3zM544 857h1v1h-1zM545 856h2v1h-2zM547 855h1v1h-1zM548 854h1v1h-1zM549 853h2v1h-2zM551 852h1v1h-1zM552 851h1v1h-1zM553 850h2v1h-2zM555 849h1v1h-1zM556 848h1v1h-1zM557 847h2v1h-2zM559 846h1v1h-1zM560 847h2v1h-2zM562 848h1v1h-1zM563 849h2v1h-2zM565 850h2v1h-2zM567 851h1v1h-1zM568 852h1v2h-1zM569 854h1v1h-1zM570 855h1v1h-1zM571 856h1v2h-1zM572 858h1v1h-1zM573 859h1v1h-1zM574 860h1v2h-1zM575 862h4v1h-4zM579 861h5v1h-5zM584 860h1v1h-1zM585 859h2v1h-2zM587 858h1v1h-1zM588 857h1v1h-1zM589 856h2v1h-2zM591 855h1v1h-1zM592 854h1v1h-1zM593 853h2v1h-2zM595 852h1v1h-1zM596 851h1v1h-1zM597 850h2v1h-2zM599 849h2v1h-2zM601 850h4v1h-4zM605 851h4v1h-4zM609 852h2v1h-2zM611 853h3v1h-3zM614 854h2v1h-2zM616 853h1v1h-1zM617 852h1v1h-1zM618 851h1v1h-1zM619 849h1v2h-1zM620 848h1v1h-1zM621 847h1v1h-1zM622 846h1v1h-1zM623 845h1v1h-1zM624 846h2v1h-2zM626 847h1v1h-1zM627 848h2v1h-2zM629 849h2v1h-2zM631 850h1v1h-1zM632 849h1v1h-1zM633 848h2v1h-2zM635 847h1v1h-1zM636 846h1v1h-1zM637 845h2v1h-2zM639 844h1v1h-1zM640 843h1v1h-1zM641 842h2v1h-2zM643 841h1v1h-1zM644 840h1v1h-1zM645 839h2v1h-2zM647 838h4v1h-4zM651 839h5v1h-5zM656 840h2v1h-2zM658 841h1v1h-1zM659 842h2v1h-2zM661 843h2v1h-2zM663 844h1v2h-1zM664 846h1v3h-1zM665 849h1v3h-1zM666 852h1v3h-1zM667 855h1v4h-1zM668 859h1v3h-1zM669 862h1v3h-1zM670 865h1v3h-1zM671 868h1v2h-1zM672 870h1v1h-1zM673 871h1v2h-1zM674 873h1v1h-1zM675 874h1v1h-1zM676 875h1v1h-1zM677 876h1v2h-1zM678 878h1v1h-1zM679 879h1v1h-1zM680 878h1v1h-1zM681 877h1v1h-1zM682 876h1v1h-1zM683 875h2v1h-2zM685 874h1v1h-1zM686 873h1v1h-1zM687 872h9v1h-9zM696 873h1v1h-1zM697 874h1v1h-1zM698 875h1v1h-1zM699 876h1v1h-1zM700 877h1v1h-1zM701 878h1v1h-1zM702 879h1v1h-1zM703 880h2v1h-2zM705 881h4v1h-4zM709 882h3v1h-3zM712 883h1v2h-1zM713 885h1v2h-1zM714 887h1v1h-1zM715 888h1v2h-1zM716 890h1v1h-1zM717 891h1v2h-1zM718 893h1v2h-1zM719 895h18v1h-18zM737 894h4v1h-4zM741 893h4v1h-4zM745 892h2v1h-2zM747 891h3v1h-3zM750 890h2v1h-2zM752 891h2v1h-2zM754 892h2v1h-2zM756 893h2v1h-2zM758 894h3v1h-3zM761 893h4v1h-4zM765 892h3v1h-3zM767 891h1v1h-1zM768 889h1v2h-1zM769 886h1v3h-1zM770 884h1v2h-1zM771 881h1v3h-1zM772 879h1v2h-1zM773 876h1v3h-1zM774 874h1v2h-1zM775 872h1v2h-1zM776 872h3v1h-3zM779 873h6v1h-6zM785 872h4v1h-4zM789 871h6v1h-6zM795 872h6v1h-6zM801 873h4v1h-4zM805 874h3v1h-3zM807 873h1v1h-1zM808 870h1v3h-1zM809 867h1v3h-1zM810 864h1v3h-1zM811 860h1v4h-1zM812 857h1v3h-1zM813 854h1v3h-1zM814 851h1v3h-1zM815 849h1v2h-1zM816 847h1v2h-1zM817 846h1v1h-1zM818 845h1v1h-1zM819 843h1v2h-1zM820 842h1v1h-1zM821 841h1v1h-1zM822 839h1v2h-1zM823 838h4v1h-4zM827 839h5v1h-5zM832 840h1v1h-1zM833 841h1v1h-1zM834 842h1v1h-1zM835 843h2v1h-2zM837 844h1v1h-1zM838 845h1v1h-1zM839 846h4v1h-4zM843 847h8v1h-8zM851 848h5v1h-5zM856 847h2v1h-2zM858 846h2v1h-2zM860 845h2v1h-2zM862 844h2v1h-2zM864 843h1v1h-1zM865 842h1v1h-1zM866 841h1v1h-1zM867 840h1v1h-1zM868 839h1v1h-1zM869 838h1v1h-1zM870 837h1v1h-1zM871 836h1v1h-1zM872 837h1v2h-1zM873 839h1v1h-1zM874 840h1v1h-1zM875 841h1v2h-1zM876 843h1v1h-1zM877 844h1v1h-1zM878 845h1v2h-1zM879 847h9v1h-9zM888 846h1v1h-1zM889 845h2v1h-2zM891 844h1v1h-1zM892 843h1v1h-1zM893 842h2v1h-2zM895 841h1v1h-1zM896 842h1v1h-1zM897 843h1v1h-1zM898 844h1v1h-1zM899 845h1v2h-1zM900 847h1v1h-1zM901 848h1v1h-1zM902 849h1v1h-1zM903 850h1v1h-1zM904 851h1v2h-1zM905 853h1v1h-1zM906 854h1v1h-1zM907 855h1v2h-1zM908 857h1v1h-1zM909 858h1v1h-1zM910 859h1v2h-1zM911 861h1v1h-1zM912 862h1v1h-1zM913 863h2v1h-2zM915 864h1v1h-1zM916 865h1v1h-1zM917 866h2v1h-2zM919 867h2v1h-2zM921 868h4v1h-4zM925 869h6v1h-6zM931 868h5v1h-5zM936 867h1v1h-1zM937 866h1v1h-1zM938 865h1v1h-1zM939 864h2v1h-2zM941 863h1v1h-1zM942 862h1v1h-1zM943 861h4v1h-4zM947 862h5v1h-5zM952 860h1v2h-1zM953 858h1v2h-1zM954 856h1v2h-1zM955 854h1v2h-1zM956 852h1v2h-1zM957 850h1v2h-1zM958 848h1v2h-1zM959 847h1v1h-1zM960 848h2v1h-2zM962 849h1v1h-1zM963 850h2v1h-2zM965 851h2v1h-2zM967 852h4v1h-4zM971 851h5v1h-5zM976 852h1v2h-1zM977 854h1v2h-1zM978 856h1v1h-1zM979 857h1v2h-1zM980 859h1v1h-1zM981 860h1v2h-1zM982 862h1v2h-1zM983 864h1v1h-1zM984 862h1v2h-1zM985 861h1v1h-1zM986 860h1v1h-1zM987 858h1v2h-1zM988 857h1v1h-1zM989 856h1v1h-1zM990 854h1v2h-1zM991 853h2v1h-2zM993 854h2v1h-2zM995 855h3v1h-3zM998 856h3v1h-3zM1001 855h4v1h-4zM1005 854h3v1h-3zM1007 853h1v1h-1zM1008 851h1v2h-1zM1009 848h1v3h-1zM1010 846h1v2h-1zM1011 843h1v3h-1zM1012 841h1v2h-1zM1013 838h1v3h-1zM1014 836h1v2h-1zM1015 834h1v2h-1zM1016 835h1v1h-1zM1017 836h2v1h-2zM1019 837h1v1h-1zM1020 838h1v1h-1zM1021 839h2v1h-2zM1023 840h1v1h-1zM1024 839h2v1h-2zM1026 838h1v1h-1zM1027 837h2v1h-2zM1029 836h2v1h-2zM1031 835h2v1h-2zM1033 834h4v1h-4zM1037 833h6v1h-6zM1043 832h5v1h-5zM1048 831h1v1h-1zM1049 830h1v1h-1zM1050 829h1v1h-1zM1051 828h1v1h-1zM1052 827h1v1h-1zM1053 826h1v1h-1zM1054 825h1v1h-1zM1055 824h1v1h-1zM1056 823h1v1h-1zM1057 822h2v1h-2zM1059 821h1v1h-1zM1060 820h1v1h-1zM1061 819h2v1h-2zM1063 818h1v1h-1zM1064 819h1v1h-1zM1065 820h1v1h-1zM1066 821h1v1h-1zM1067 822h1v2h-1zM1068 824h1v1h-1zM1069 825h1v1h-1zM1070 826h1v1h-1zM1071 827h9v1h-9zM1080 826h2v1h-2zM1082 825h1v1h-1zM1083 824h2v1h-2zM1085 823h2v1h-2zM1087 822h1v1h-1zM1088 823h2v1h-2zM1090 824h2v1h-2zM1092 825h2v1h-2zM1094 826h2v1h-2zM1096 827h1v1h-1zM1097 828h1v1h-1zM1098 829h1v1h-1zM1099 830h1v1h-1zM1100 831h1v1h-1zM1101 832h1v1h-1zM1102 833h1v1h-1zM1103 834h2v1h-2zM1105 835h4v1h-4zM1109 836h3v1h-3zM1112 835h2v1h-2zM1114 834h1v1h-1zM1115 833h2v1h-2zM1117 832h2v1h-2zM1119 831h1v1h-1zM1120 832h1v1h-1zM1121 833h2v1h-2zM1123 834h1v1h-1zM1124 835h1v1h-1zM1125 836h2v1h-2zM1127 837h1v1h-1zM1128 836h2v1h-2zM1130 835h2v1h-2zM1132 834h2v1h-2zM1134 833h5v1h-5zM1139 834h5v1h-5zM1144 833h2v1h-2zM1146 832h2v1h-2zM1148 831h2v1h-2zM1150 830h3v1h-3zM1153 831h2v1h-2zM1155 832h3v1h-3zM1158 833h2v1h-2zM1160 831h1v2h-1zM1161 830h1v1h-1zM1162 829h1v1h-1zM1163 827h1v2h-1zM1164 826h1v1h-1zM1165 825h1v1h-1zM1166 823h1v2h-1zM1167 822h2v1h-2zM1169 823h4v1h-4zM1173 824h6v1h-6zM1179 825h5v1h-5zM1184 826h1v1h-1zM1185 827h2v1h-2zM1187 828h1v1h-1zM1188 829h1v1h-1zM1189 830h2v1h-2zM1191 831h4v1h-4zM1195 830h8v1h-8zM1203 829h6v1h-6zM1209 828h2v1h-2zM1211 827h3v1h-3zM1214 826h2v1h-2zM1216 827h2v1h-2zM1218 828h2v1h-2zM1220 829h2v1h-2zM1222 830h2v1h-2zM1224 831h1v1h-1zM1225 832h1v1h-1zM1226 833h1v1h-1zM1227 834h1v1h-1zM1228 835h1v1h-1zM1229 836h1v1h-1zM1230 837h1v1h-1zM1231 838h2v1h-2zM1233 837h4v1h-4zM1237 836h4v1h-4zM1241 835h4v1h-4zM1245 834h3v1h-3zM1248 833h1v1h-1zM1249 832h2v1h-2zM1251 831h1v1h-1zM1252 830h1v1h-1zM1253 829h2v1h-2zM1255 828h1v1h-1zM1256 829h1v1h-1zM1257 830h1v1h-1zM1258 831h1v1h-1zM1259 832h2v1h-2zM1261 833h1v1h-1zM1262 834h1v1h-1zM1263 835h2v1h-2zM1265 834h2v1h-2zM1267 833h3v1h-3zM1270 832h5v1h-5zM1275 833h6v1h-6zM1281 834h2v1h-2zM1283 835h3v1h-3zM1286 836h10v1h-10zM1296 835h2v1h-2zM1298 834h1v1h-1zM1299 833h2v1h-2zM1301 832h2v1h-2zM1303 831h1v2h-1zM1304 833h1v2h-1zM1305 835h1v2h-1zM1306 837h1v3h-1zM1307 840h1v2h-1zM1308 842h1v3h-1zM1309 845h1v2h-1zM1310 847h1v2h-1zM1311 849h1v2h-1zM1312 851h1v2h-1zM1313 853h1v2h-1zM1314 855h1v1h-1zM1315 856h1v2h-1zM1316 858h1v1h-1zM1317 859h1v2h-1zM1318 861h1v2h-1zM1319 863h4v1h-4zM1323 862h5v1h-5z"/>
</g>
<text x="3.5" y="781.2" font-size="10" fill="#000" textLength="68" lengthAdjust="spacingAndGlyphs">RSI(14) 42.1049</text>
</svg>
</body></html>
